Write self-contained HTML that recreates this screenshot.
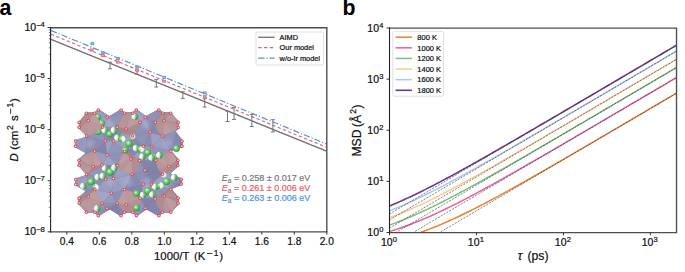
<!DOCTYPE html>
<html><head><meta charset="utf-8"><style>
svg text{font-family:"Liberation Sans",sans-serif}
html,body{margin:0;padding:0;background:#fff;width:685px;height:272px;overflow:hidden;position:relative;font-family:"Liberation Sans", sans-serif}
</style></head><body>
<svg width="685" height="272" viewBox="0 0 685 272" style="position:absolute;left:0;top:0">
<rect width="685" height="272" fill="#fff"/>
<defs><clipPath id="ca"><rect x="50.60" y="27.50" width="276.20" height="204.30"/></clipPath>
<clipPath id="cb"><rect x="389.50" y="28.00" width="287.02" height="204.50"/></clipPath></defs>
<text x="-0.40" y="14.90" font-size="21.3" fill="#000" font-weight="bold">a</text>
<text x="342.40" y="14.95" font-size="21.3" fill="#000" font-weight="bold">b</text>
<g id="crystal">
<defs><clipPath id="cro"><polygon points="79.3,121.5 86.4,112.3 94.6,112.3 98.3,109.0 109.5,116.0 121.0,109.0 124.5,112.3 132.6,112.3 136.3,109.0 146.0,116.0 158.8,109.0 162.8,112.3 170.7,112.3 179.0,121.8 179.0,128.2 175.8,131.5 182.8,140.5 182.8,147.2 171.5,151.0 178.8,159.4 178.8,166.2 170.5,173.5 182.2,178.4 182.2,185.0 171.5,189.0 179.0,197.5 179.0,204.0 171.0,212.8 162.5,212.8 158.9,216.5 146.5,209.5 136.5,216.5 132.8,212.8 124.5,212.8 121.0,216.5 109.7,209.5 98.3,216.5 94.8,212.8 86.4,212.8 78.3,204.0 78.3,197.5 85.5,191.0 75.0,185.2 75.0,178.6 86.6,174.8 78.3,166.0 78.3,159.5 85.5,153.0 74.8,147.2 74.8,140.2 86.6,136.4 78.4,128.3"/></clipPath>
<radialGradient id="gG" cx="0.4" cy="0.38" r="0.62"><stop offset="0" stop-color="#f6fff6"/><stop offset="0.3" stop-color="#8ad88a"/><stop offset="1" stop-color="#2f9a3a"/></radialGradient><radialGradient id="gW" cx="0.4" cy="0.38" r="0.62"><stop offset="0" stop-color="#ffffff"/><stop offset="0.6" stop-color="#f2f2f2"/><stop offset="1" stop-color="#c4c4c4"/></radialGradient><radialGradient id="gR" cx="0.5" cy="0.5" r="0.5"><stop offset="0" stop-color="#fff0f0"/><stop offset="0.3" stop-color="#f6a8ae"/><stop offset="0.7" stop-color="#e24a56"/><stop offset="1" stop-color="#d04650"/></radialGradient><radialGradient id="gB" cx="0.5" cy="0.5" r="0.5"><stop offset="0" stop-color="#b4b6d8" stop-opacity="0.9"/><stop offset="1" stop-color="#b4b6d8" stop-opacity="0"/></radialGradient></defs>
<polygon points="79.3,121.5 86.4,112.3 94.6,112.3 98.3,109.0 109.5,116.0 121.0,109.0 124.5,112.3 132.6,112.3 136.3,109.0 146.0,116.0 158.8,109.0 162.8,112.3 170.7,112.3 179.0,121.8 179.0,128.2 175.8,131.5 182.8,140.5 182.8,147.2 171.5,151.0 178.8,159.4 178.8,166.2 170.5,173.5 182.2,178.4 182.2,185.0 171.5,189.0 179.0,197.5 179.0,204.0 171.0,212.8 162.5,212.8 158.9,216.5 146.5,209.5 136.5,216.5 132.8,212.8 124.5,212.8 121.0,216.5 109.7,209.5 98.3,216.5 94.8,212.8 86.4,212.8 78.3,204.0 78.3,197.5 85.5,191.0 75.0,185.2 75.0,178.6 86.6,174.8 78.3,166.0 78.3,159.5 85.5,153.0 74.8,147.2 74.8,140.2 86.6,136.4 78.4,128.3" fill="#9295bb"/>
<g clip-path="url(#cro)"><polygon points="78.3,204.0 86.4,212.2 86.4,212.8" fill="#9698bc" stroke="#7d80a8" stroke-width="0.4" stroke-opacity="0.4"/><polygon points="107.2,155.0 94.6,151.1 105.4,141.0" fill="#8284ab" stroke="#7d80a8" stroke-width="0.4" stroke-opacity="0.4"/><polygon points="94.6,151.1 86.6,136.4 105.4,141.0" fill="#8a8cb2" stroke="#7d80a8" stroke-width="0.4" stroke-opacity="0.4"/><polygon points="98.3,215.7 109.7,209.5 98.3,216.5" fill="#8a8cb2" stroke="#7d80a8" stroke-width="0.4" stroke-opacity="0.4"/><polygon points="75.6,146.3 85.5,153.0 74.8,147.2" fill="#9698bd" stroke="#7d80a8" stroke-width="0.4" stroke-opacity="0.4"/><polygon points="94.6,151.1 85.5,153.0 86.6,136.4" fill="#898bb1" stroke="#7d80a8" stroke-width="0.4" stroke-opacity="0.4"/><polygon points="85.5,153.0 75.6,146.3 86.6,136.4" fill="#9597bb" stroke="#7d80a8" stroke-width="0.4" stroke-opacity="0.4"/><polygon points="86.4,112.3 86.4,113.2 79.3,121.5" fill="#9ea0c3" stroke="#7d80a8" stroke-width="0.4" stroke-opacity="0.4"/><polygon points="86.4,113.2 88.2,120.6 79.3,121.5" fill="#9a9cbf" stroke="#7d80a8" stroke-width="0.4" stroke-opacity="0.4"/><polygon points="179.0,121.8 170.7,113.2 170.7,112.3" fill="#8a8cb2" stroke="#7d80a8" stroke-width="0.4" stroke-opacity="0.4"/><polygon points="178.1,203.2 170.7,212.2 164.4,196.1" fill="#8385ab" stroke="#7d80a8" stroke-width="0.4" stroke-opacity="0.4"/><polygon points="170.7,212.2 162.5,212.2 164.4,196.1" fill="#8284ab" stroke="#7d80a8" stroke-width="0.4" stroke-opacity="0.4"/><polygon points="171.0,212.8 170.7,212.2 179.0,204.0" fill="#8486ad" stroke="#7d80a8" stroke-width="0.4" stroke-opacity="0.4"/><polygon points="170.7,212.2 178.1,203.2 179.0,204.0" fill="#8789b0" stroke="#7d80a8" stroke-width="0.4" stroke-opacity="0.4"/><polygon points="162.5,212.8 170.7,212.2 171.0,212.8" fill="#8183aa" stroke="#7d80a8" stroke-width="0.4" stroke-opacity="0.4"/><polygon points="162.5,212.2 170.7,212.2 162.5,212.8" fill="#8284ab" stroke="#7d80a8" stroke-width="0.4" stroke-opacity="0.4"/><polygon points="113.5,178.5 132.3,174.2 124.4,189.5" fill="#9fa1c4" stroke="#7d80a8" stroke-width="0.4" stroke-opacity="0.4"/><polygon points="140.1,198.3 143.5,184.1 151.6,184.1" fill="#a0a2c6" stroke="#7d80a8" stroke-width="0.4" stroke-opacity="0.4"/><polygon points="132.3,174.2 143.5,184.1 124.4,189.5" fill="#8789b0" stroke="#7d80a8" stroke-width="0.4" stroke-opacity="0.4"/><polygon points="143.5,184.1 140.1,198.3 124.4,189.5" fill="#8385ac" stroke="#7d80a8" stroke-width="0.4" stroke-opacity="0.4"/><polygon points="158.8,110.0 146.0,116.0 158.8,109.0" fill="#989abf" stroke="#7d80a8" stroke-width="0.4" stroke-opacity="0.4"/><polygon points="158.8,110.0 162.8,112.3 162.8,113.2" fill="#8c8eb4" stroke="#7d80a8" stroke-width="0.4" stroke-opacity="0.4"/><polygon points="162.8,112.3 158.8,110.0 158.8,109.0" fill="#9496bb" stroke="#7d80a8" stroke-width="0.4" stroke-opacity="0.4"/><polygon points="155.3,122.4 158.8,110.0 162.8,113.2" fill="#8d8fb5" stroke="#7d80a8" stroke-width="0.4" stroke-opacity="0.4"/><polygon points="158.8,110.0 155.3,122.4 146.0,116.0" fill="#9092b6" stroke="#7d80a8" stroke-width="0.4" stroke-opacity="0.4"/><polygon points="117.3,127.1 102.6,127.1 107.2,117.3" fill="#9b9dc0" stroke="#7d80a8" stroke-width="0.4" stroke-opacity="0.4"/><polygon points="79.1,203.1 86.4,212.2 78.3,204.0" fill="#8a8cb2" stroke="#7d80a8" stroke-width="0.4" stroke-opacity="0.4"/><polygon points="75.6,141.1 74.8,140.2 86.6,136.4" fill="#a1a3c6" stroke="#7d80a8" stroke-width="0.4" stroke-opacity="0.4"/><polygon points="75.6,146.3 75.6,141.1 86.6,136.4" fill="#9b9dc0" stroke="#7d80a8" stroke-width="0.4" stroke-opacity="0.4"/><polygon points="102.6,127.1 86.6,136.0 88.2,120.6" fill="#9a9cc0" stroke="#7d80a8" stroke-width="0.4" stroke-opacity="0.4"/><polygon points="86.6,136.4 86.6,136.0 105.4,141.0" fill="#9698bd" stroke="#7d80a8" stroke-width="0.4" stroke-opacity="0.4"/><polygon points="86.6,136.0 102.6,127.1 105.4,141.0" fill="#9193b8" stroke="#7d80a8" stroke-width="0.4" stroke-opacity="0.4"/><polygon points="88.2,120.6 79.2,122.4 79.3,121.5" fill="#9ea0c4" stroke="#7d80a8" stroke-width="0.4" stroke-opacity="0.4"/><polygon points="182.8,147.2 181.9,146.3 182.8,140.5" fill="#8385ac" stroke="#7d80a8" stroke-width="0.4" stroke-opacity="0.4"/><polygon points="171.5,151.0 178.8,159.4 177.8,160.2" fill="#8082a9" stroke="#7d80a8" stroke-width="0.4" stroke-opacity="0.4"/><polygon points="170.7,151.1 171.5,151.0 177.8,160.2" fill="#8284ab" stroke="#7d80a8" stroke-width="0.4" stroke-opacity="0.4"/><polygon points="171.5,151.0 181.9,146.3 182.8,147.2" fill="#8688af" stroke="#7d80a8" stroke-width="0.4" stroke-opacity="0.4"/><polygon points="179.0,128.2 178.2,127.5 179.0,121.8" fill="#9496ba" stroke="#7d80a8" stroke-width="0.4" stroke-opacity="0.4"/><polygon points="178.2,127.5 178.2,122.4 179.0,121.8" fill="#9496ba" stroke="#7d80a8" stroke-width="0.4" stroke-opacity="0.4"/><polygon points="178.2,122.4 170.7,113.2 179.0,121.8" fill="#989abe" stroke="#7d80a8" stroke-width="0.4" stroke-opacity="0.4"/><polygon points="162.5,174.3 168.9,166.5 170.5,173.5" fill="#9b9dc0" stroke="#7d80a8" stroke-width="0.4" stroke-opacity="0.4"/><polygon points="168.9,166.5 170.7,151.1 177.8,160.2" fill="#8385ac" stroke="#7d80a8" stroke-width="0.4" stroke-opacity="0.4"/><polygon points="171.5,189.0 162.5,174.3 170.5,173.5" fill="#9a9cc0" stroke="#7d80a8" stroke-width="0.4" stroke-opacity="0.4"/><polygon points="132.3,174.2 117.3,165.4 131.0,158.9" fill="#9ea0c3" stroke="#7d80a8" stroke-width="0.4" stroke-opacity="0.4"/><polygon points="113.5,178.5 117.3,165.4 132.3,174.2" fill="#9d9fc2" stroke="#7d80a8" stroke-width="0.4" stroke-opacity="0.4"/><polygon points="117.3,165.4 124.7,151.5 131.0,158.9" fill="#8b8db3" stroke="#7d80a8" stroke-width="0.4" stroke-opacity="0.4"/><polygon points="124.7,151.5 117.3,165.4 107.2,155.0" fill="#9092b8" stroke="#7d80a8" stroke-width="0.4" stroke-opacity="0.4"/><polygon points="146.5,209.5 158.9,215.7 158.9,216.5" fill="#8789b0" stroke="#7d80a8" stroke-width="0.4" stroke-opacity="0.4"/><polygon points="158.9,215.7 146.5,209.5 162.5,212.2" fill="#8587ae" stroke="#7d80a8" stroke-width="0.4" stroke-opacity="0.4"/><polygon points="158.9,215.7 162.5,212.8 158.9,216.5" fill="#8284ab" stroke="#7d80a8" stroke-width="0.4" stroke-opacity="0.4"/><polygon points="158.9,215.7 162.5,212.2 162.5,212.8" fill="#8789b0" stroke="#7d80a8" stroke-width="0.4" stroke-opacity="0.4"/><polygon points="162.5,212.2 155.1,198.8 164.4,196.1" fill="#8486ac" stroke="#7d80a8" stroke-width="0.4" stroke-opacity="0.4"/><polygon points="146.5,209.5 155.1,198.8 162.5,212.2" fill="#8385ac" stroke="#7d80a8" stroke-width="0.4" stroke-opacity="0.4"/><polygon points="164.4,196.1 155.1,198.8 151.6,184.1" fill="#9294b9" stroke="#7d80a8" stroke-width="0.4" stroke-opacity="0.4"/><polygon points="155.1,198.8 140.1,198.3 151.6,184.1" fill="#9597bb" stroke="#7d80a8" stroke-width="0.4" stroke-opacity="0.4"/><polygon points="144.9,170.3 143.5,184.1 132.3,174.2" fill="#8d8fb4" stroke="#7d80a8" stroke-width="0.4" stroke-opacity="0.4"/><polygon points="144.9,170.3 162.5,174.3 151.6,184.1" fill="#8183a9" stroke="#7d80a8" stroke-width="0.4" stroke-opacity="0.4"/><polygon points="143.5,184.1 144.9,170.3 151.6,184.1" fill="#898bb1" stroke="#7d80a8" stroke-width="0.4" stroke-opacity="0.4"/><polygon points="86.4,113.2 94.6,113.2 88.2,120.6" fill="#a1a3c6" stroke="#7d80a8" stroke-width="0.4" stroke-opacity="0.4"/><polygon points="94.6,113.2 102.6,127.1 88.2,120.6" fill="#9ea0c3" stroke="#7d80a8" stroke-width="0.4" stroke-opacity="0.4"/><polygon points="94.6,113.2 98.3,110.0 107.2,117.3" fill="#a2a4c7" stroke="#7d80a8" stroke-width="0.4" stroke-opacity="0.4"/><polygon points="102.6,127.1 94.6,113.2 107.2,117.3" fill="#9ea0c3" stroke="#7d80a8" stroke-width="0.4" stroke-opacity="0.4"/><polygon points="162.5,136.0 170.7,151.1 151.9,146.6" fill="#9b9dc1" stroke="#7d80a8" stroke-width="0.4" stroke-opacity="0.4"/><polygon points="162.5,136.0 171.5,151.0 170.7,151.1" fill="#8587ae" stroke="#7d80a8" stroke-width="0.4" stroke-opacity="0.4"/><polygon points="124.7,151.5 143.5,146.3 131.0,158.9" fill="#8587ae" stroke="#7d80a8" stroke-width="0.4" stroke-opacity="0.4"/><polygon points="143.5,146.3 124.7,151.5 132.3,136.0" fill="#8688ae" stroke="#7d80a8" stroke-width="0.4" stroke-opacity="0.4"/><polygon points="150.2,132.3 143.5,146.3 132.3,136.0" fill="#8e90b6" stroke="#7d80a8" stroke-width="0.4" stroke-opacity="0.4"/><polygon points="143.5,146.3 150.2,132.3 151.9,146.6" fill="#8a8cb3" stroke="#7d80a8" stroke-width="0.4" stroke-opacity="0.4"/><polygon points="150.2,132.3 162.5,136.0 151.9,146.6" fill="#9ea0c3" stroke="#7d80a8" stroke-width="0.4" stroke-opacity="0.4"/><polygon points="162.5,136.0 150.2,132.3 155.3,122.4" fill="#8587ae" stroke="#7d80a8" stroke-width="0.4" stroke-opacity="0.4"/><polygon points="109.5,116.0 121.1,110.0 124.6,113.2" fill="#8f91b6" stroke="#7d80a8" stroke-width="0.4" stroke-opacity="0.4"/><polygon points="117.3,127.1 109.5,116.0 124.6,113.2" fill="#9193b8" stroke="#7d80a8" stroke-width="0.4" stroke-opacity="0.4"/><polygon points="109.5,116.0 117.3,127.1 107.2,117.3" fill="#9799be" stroke="#7d80a8" stroke-width="0.4" stroke-opacity="0.4"/><polygon points="121.1,110.0 109.5,116.0 121.0,109.0" fill="#999bbf" stroke="#7d80a8" stroke-width="0.4" stroke-opacity="0.4"/><polygon points="109.5,116.0 98.3,110.0 98.3,109.0" fill="#a2a4c7" stroke="#7d80a8" stroke-width="0.4" stroke-opacity="0.4"/><polygon points="98.3,110.0 109.5,116.0 107.2,117.3" fill="#9d9fc2" stroke="#7d80a8" stroke-width="0.4" stroke-opacity="0.4"/><polygon points="124.7,151.5 113.5,141.0 132.3,136.0" fill="#9c9ec1" stroke="#7d80a8" stroke-width="0.4" stroke-opacity="0.4"/><polygon points="113.5,141.0 107.2,155.0 105.4,141.0" fill="#9d9fc3" stroke="#7d80a8" stroke-width="0.4" stroke-opacity="0.4"/><polygon points="113.5,141.0 124.7,151.5 107.2,155.0" fill="#9395b9" stroke="#7d80a8" stroke-width="0.4" stroke-opacity="0.4"/><polygon points="102.6,127.1 113.5,141.0 105.4,141.0" fill="#898bb1" stroke="#7d80a8" stroke-width="0.4" stroke-opacity="0.4"/><polygon points="117.3,127.1 113.5,141.0 102.6,127.1" fill="#8385ac" stroke="#7d80a8" stroke-width="0.4" stroke-opacity="0.4"/><polygon points="136.3,110.0 136.3,109.0 146.0,116.0" fill="#9c9ec1" stroke="#7d80a8" stroke-width="0.4" stroke-opacity="0.4"/><polygon points="113.5,141.0 126.1,129.0 132.3,136.0" fill="#9b9dc0" stroke="#7d80a8" stroke-width="0.4" stroke-opacity="0.4"/><polygon points="126.1,129.0 113.5,141.0 117.3,127.1" fill="#8688af" stroke="#7d80a8" stroke-width="0.4" stroke-opacity="0.4"/><polygon points="126.1,129.0 117.3,127.1 124.6,113.2" fill="#8587ae" stroke="#7d80a8" stroke-width="0.4" stroke-opacity="0.4"/><polygon points="132.6,113.2 126.1,129.0 124.6,113.2" fill="#898bb1" stroke="#7d80a8" stroke-width="0.4" stroke-opacity="0.4"/><polygon points="132.6,112.3 132.6,113.2 124.6,113.2" fill="#9ea0c3" stroke="#7d80a8" stroke-width="0.4" stroke-opacity="0.4"/><polygon points="136.3,110.0 132.6,112.3 136.3,109.0" fill="#a2a4c7" stroke="#7d80a8" stroke-width="0.4" stroke-opacity="0.4"/><polygon points="132.6,112.3 136.3,110.0 132.6,113.2" fill="#9c9ec1" stroke="#7d80a8" stroke-width="0.4" stroke-opacity="0.4"/><polygon points="78.3,197.5 85.5,191.0 79.1,198.4" fill="#8e90b6" stroke="#7d80a8" stroke-width="0.4" stroke-opacity="0.4"/><polygon points="85.5,191.0 86.6,174.8 94.8,189.4" fill="#8b8db3" stroke="#7d80a8" stroke-width="0.4" stroke-opacity="0.4"/><polygon points="111.5,193.2 102.2,203.2 94.8,189.4" fill="#a3a5c8" stroke="#7d80a8" stroke-width="0.4" stroke-opacity="0.4"/><polygon points="111.5,193.2 117.1,203.2 102.2,203.2" fill="#9799bd" stroke="#7d80a8" stroke-width="0.4" stroke-opacity="0.4"/><polygon points="111.5,193.2 113.5,178.5 124.4,189.5" fill="#999bc0" stroke="#7d80a8" stroke-width="0.4" stroke-opacity="0.4"/><polygon points="117.1,203.2 111.5,193.2 124.4,189.5" fill="#8d8fb5" stroke="#7d80a8" stroke-width="0.4" stroke-opacity="0.4"/><polygon points="107.0,208.4 109.7,209.5 98.3,215.7" fill="#8c8eb3" stroke="#7d80a8" stroke-width="0.4" stroke-opacity="0.4"/><polygon points="107.0,208.4 117.1,203.2 109.7,209.5" fill="#8486ad" stroke="#7d80a8" stroke-width="0.4" stroke-opacity="0.4"/><polygon points="117.1,203.2 107.0,208.4 102.2,203.2" fill="#8d8fb5" stroke="#7d80a8" stroke-width="0.4" stroke-opacity="0.4"/><polygon points="94.8,212.8 98.3,215.7 98.3,216.5" fill="#9496bb" stroke="#7d80a8" stroke-width="0.4" stroke-opacity="0.4"/><polygon points="86.6,136.0 79.2,127.3 88.2,120.6" fill="#9b9dc0" stroke="#7d80a8" stroke-width="0.4" stroke-opacity="0.4"/><polygon points="79.2,127.3 86.6,136.0 78.4,128.3" fill="#9d9fc2" stroke="#7d80a8" stroke-width="0.4" stroke-opacity="0.4"/><polygon points="79.2,127.3 79.2,122.4 88.2,120.6" fill="#9c9ec1" stroke="#7d80a8" stroke-width="0.4" stroke-opacity="0.4"/><polygon points="79.2,122.4 79.2,127.3 78.4,128.3" fill="#9d9fc2" stroke="#7d80a8" stroke-width="0.4" stroke-opacity="0.4"/><polygon points="79.1,165.3 86.6,174.5 78.3,166.0" fill="#9fa1c4" stroke="#7d80a8" stroke-width="0.4" stroke-opacity="0.4"/><polygon points="117.3,165.4 101.9,165.0 107.2,155.0" fill="#a0a2c5" stroke="#7d80a8" stroke-width="0.4" stroke-opacity="0.4"/><polygon points="101.9,165.0 117.3,165.4 113.5,178.5" fill="#8486ad" stroke="#7d80a8" stroke-width="0.4" stroke-opacity="0.4"/><polygon points="101.9,165.0 94.6,151.1 107.2,155.0" fill="#9b9dc0" stroke="#7d80a8" stroke-width="0.4" stroke-opacity="0.4"/><polygon points="79.1,160.3 78.3,159.5 85.5,153.0" fill="#8e90b5" stroke="#7d80a8" stroke-width="0.4" stroke-opacity="0.4"/><polygon points="79.1,160.3 79.1,165.3 78.3,166.0" fill="#9ea0c3" stroke="#7d80a8" stroke-width="0.4" stroke-opacity="0.4"/><polygon points="78.3,159.5 79.1,160.3 78.3,166.0" fill="#8f91b6" stroke="#7d80a8" stroke-width="0.4" stroke-opacity="0.4"/><polygon points="181.9,146.3 181.9,141.3 182.8,140.5" fill="#8c8eb4" stroke="#7d80a8" stroke-width="0.4" stroke-opacity="0.4"/><polygon points="171.5,151.0 181.9,141.3 181.9,146.3" fill="#8789b0" stroke="#7d80a8" stroke-width="0.4" stroke-opacity="0.4"/><polygon points="178.1,198.3 178.1,203.2 164.4,196.1" fill="#8587ae" stroke="#7d80a8" stroke-width="0.4" stroke-opacity="0.4"/><polygon points="178.1,198.3 171.5,189.0 179.0,197.5" fill="#8587ae" stroke="#7d80a8" stroke-width="0.4" stroke-opacity="0.4"/><polygon points="182.2,178.4 182.2,185.0 181.2,184.1" fill="#898bb1" stroke="#7d80a8" stroke-width="0.4" stroke-opacity="0.4"/><polygon points="182.2,185.0 171.5,189.0 181.2,184.1" fill="#8183aa" stroke="#7d80a8" stroke-width="0.4" stroke-opacity="0.4"/><polygon points="162.5,174.3 170.7,189.5 151.6,184.1" fill="#9d9fc3" stroke="#7d80a8" stroke-width="0.4" stroke-opacity="0.4"/><polygon points="171.5,189.0 170.7,189.5 162.5,174.3" fill="#8688af" stroke="#7d80a8" stroke-width="0.4" stroke-opacity="0.4"/><polygon points="170.7,189.5 164.4,196.1 151.6,184.1" fill="#9193b9" stroke="#7d80a8" stroke-width="0.4" stroke-opacity="0.4"/><polygon points="170.7,189.5 178.1,198.3 164.4,196.1" fill="#8789b0" stroke="#7d80a8" stroke-width="0.4" stroke-opacity="0.4"/><polygon points="178.1,198.3 170.7,189.5 171.5,189.0" fill="#8385ac" stroke="#7d80a8" stroke-width="0.4" stroke-opacity="0.4"/><polygon points="182.2,178.4 181.2,179.2 170.5,173.5" fill="#8c8eb3" stroke="#7d80a8" stroke-width="0.4" stroke-opacity="0.4"/><polygon points="181.2,179.2 182.2,178.4 181.2,184.1" fill="#8587ae" stroke="#7d80a8" stroke-width="0.4" stroke-opacity="0.4"/><polygon points="181.2,179.2 171.5,189.0 170.5,173.5" fill="#8b8db3" stroke="#7d80a8" stroke-width="0.4" stroke-opacity="0.4"/><polygon points="171.5,189.0 181.2,179.2 181.2,184.1" fill="#8284ab" stroke="#7d80a8" stroke-width="0.4" stroke-opacity="0.4"/><polygon points="117.1,203.2 121.0,215.7 109.7,209.5" fill="#8082a9" stroke="#7d80a8" stroke-width="0.4" stroke-opacity="0.4"/><polygon points="155.1,198.8 145.3,208.2 140.1,198.3" fill="#8284ab" stroke="#7d80a8" stroke-width="0.4" stroke-opacity="0.4"/><polygon points="145.3,208.2 155.1,198.8 146.5,209.5" fill="#8183aa" stroke="#7d80a8" stroke-width="0.4" stroke-opacity="0.4"/><polygon points="145.3,208.2 132.8,212.2 140.1,198.3" fill="#9294b9" stroke="#7d80a8" stroke-width="0.4" stroke-opacity="0.4"/><polygon points="139.6,160.6 132.3,174.2 131.0,158.9" fill="#9698bc" stroke="#7d80a8" stroke-width="0.4" stroke-opacity="0.4"/><polygon points="139.6,160.6 144.9,170.3 132.3,174.2" fill="#9092b7" stroke="#7d80a8" stroke-width="0.4" stroke-opacity="0.4"/><polygon points="143.5,146.3 139.6,160.6 131.0,158.9" fill="#9d9fc2" stroke="#7d80a8" stroke-width="0.4" stroke-opacity="0.4"/><polygon points="139.6,160.6 143.5,146.3 151.9,146.6" fill="#999bbf" stroke="#7d80a8" stroke-width="0.4" stroke-opacity="0.4"/><polygon points="155.8,160.3 168.9,166.5 162.5,174.3" fill="#9d9fc2" stroke="#7d80a8" stroke-width="0.4" stroke-opacity="0.4"/><polygon points="144.9,170.3 155.8,160.3 162.5,174.3" fill="#8082a9" stroke="#7d80a8" stroke-width="0.4" stroke-opacity="0.4"/><polygon points="170.7,151.1 155.8,160.3 151.9,146.6" fill="#9395ba" stroke="#7d80a8" stroke-width="0.4" stroke-opacity="0.4"/><polygon points="168.9,166.5 155.8,160.3 170.7,151.1" fill="#8a8cb2" stroke="#7d80a8" stroke-width="0.4" stroke-opacity="0.4"/><polygon points="155.8,160.3 139.6,160.6 151.9,146.6" fill="#9597bb" stroke="#7d80a8" stroke-width="0.4" stroke-opacity="0.4"/><polygon points="139.6,160.6 155.8,160.3 144.9,170.3" fill="#8385ac" stroke="#7d80a8" stroke-width="0.4" stroke-opacity="0.4"/><polygon points="98.3,110.0 94.6,112.3 98.3,109.0" fill="#9ea0c3" stroke="#7d80a8" stroke-width="0.4" stroke-opacity="0.4"/><polygon points="94.6,113.2 94.6,112.3 98.3,110.0" fill="#9ea0c3" stroke="#7d80a8" stroke-width="0.4" stroke-opacity="0.4"/><polygon points="164.2,120.7 162.5,136.0 155.3,122.4" fill="#8385ac" stroke="#7d80a8" stroke-width="0.4" stroke-opacity="0.4"/><polygon points="164.2,120.7 178.2,122.4 178.2,127.5" fill="#9b9dc1" stroke="#7d80a8" stroke-width="0.4" stroke-opacity="0.4"/><polygon points="170.7,113.2 164.2,120.7 162.8,113.2" fill="#9092b8" stroke="#7d80a8" stroke-width="0.4" stroke-opacity="0.4"/><polygon points="164.2,120.7 155.3,122.4 162.8,113.2" fill="#8b8db3" stroke="#7d80a8" stroke-width="0.4" stroke-opacity="0.4"/><polygon points="178.2,122.4 164.2,120.7 170.7,113.2" fill="#9a9cbf" stroke="#7d80a8" stroke-width="0.4" stroke-opacity="0.4"/><polygon points="155.3,122.4 145.3,117.3 146.0,116.0" fill="#9395ba" stroke="#7d80a8" stroke-width="0.4" stroke-opacity="0.4"/><polygon points="150.2,132.3 145.3,117.3 155.3,122.4" fill="#8486ad" stroke="#7d80a8" stroke-width="0.4" stroke-opacity="0.4"/><polygon points="145.3,117.3 136.3,110.0 146.0,116.0" fill="#9d9fc2" stroke="#7d80a8" stroke-width="0.4" stroke-opacity="0.4"/><polygon points="124.5,112.3 132.6,112.3 124.6,113.2" fill="#8d8fb4" stroke="#7d80a8" stroke-width="0.4" stroke-opacity="0.4"/><polygon points="121.1,110.0 124.5,112.3 124.6,113.2" fill="#9395ba" stroke="#7d80a8" stroke-width="0.4" stroke-opacity="0.4"/><polygon points="124.5,112.3 121.1,110.0 121.0,109.0" fill="#8f91b6" stroke="#7d80a8" stroke-width="0.4" stroke-opacity="0.4"/><polygon points="88.2,196.6 79.1,203.1 79.1,198.4" fill="#898bb0" stroke="#7d80a8" stroke-width="0.4" stroke-opacity="0.4"/><polygon points="85.5,191.0 88.2,196.6 79.1,198.4" fill="#9092b7" stroke="#7d80a8" stroke-width="0.4" stroke-opacity="0.4"/><polygon points="79.1,203.1 88.2,196.6 86.4,212.2" fill="#8a8cb2" stroke="#7d80a8" stroke-width="0.4" stroke-opacity="0.4"/><polygon points="102.2,203.2 88.2,196.6 94.8,189.4" fill="#9b9dc0" stroke="#7d80a8" stroke-width="0.4" stroke-opacity="0.4"/><polygon points="88.2,196.6 85.5,191.0 94.8,189.4" fill="#888ab1" stroke="#7d80a8" stroke-width="0.4" stroke-opacity="0.4"/><polygon points="105.6,179.2 111.5,193.2 94.8,189.4" fill="#9b9dc0" stroke="#7d80a8" stroke-width="0.4" stroke-opacity="0.4"/><polygon points="111.5,193.2 105.6,179.2 113.5,178.5" fill="#9b9dc1" stroke="#7d80a8" stroke-width="0.4" stroke-opacity="0.4"/><polygon points="105.6,179.2 101.9,165.0 113.5,178.5" fill="#8e90b6" stroke="#7d80a8" stroke-width="0.4" stroke-opacity="0.4"/><polygon points="86.6,174.8 105.6,179.2 94.8,189.4" fill="#8c8eb4" stroke="#7d80a8" stroke-width="0.4" stroke-opacity="0.4"/><polygon points="93.2,166.6 86.6,174.5 79.1,165.3" fill="#9fa1c4" stroke="#7d80a8" stroke-width="0.4" stroke-opacity="0.4"/><polygon points="105.6,179.2 93.2,166.6 101.9,165.0" fill="#9193b8" stroke="#7d80a8" stroke-width="0.4" stroke-opacity="0.4"/><polygon points="93.2,166.6 79.1,160.3 85.5,153.0" fill="#898bb1" stroke="#7d80a8" stroke-width="0.4" stroke-opacity="0.4"/><polygon points="79.1,160.3 93.2,166.6 79.1,165.3" fill="#9b9dc1" stroke="#7d80a8" stroke-width="0.4" stroke-opacity="0.4"/><polygon points="93.2,166.6 85.5,153.0 94.6,151.1" fill="#898bb1" stroke="#7d80a8" stroke-width="0.4" stroke-opacity="0.4"/><polygon points="101.9,165.0 93.2,166.6 94.6,151.1" fill="#9d9fc2" stroke="#7d80a8" stroke-width="0.4" stroke-opacity="0.4"/><polygon points="86.6,174.5 93.2,166.6 86.6,174.8" fill="#9ea0c4" stroke="#7d80a8" stroke-width="0.4" stroke-opacity="0.4"/><polygon points="93.2,166.6 105.6,179.2 86.6,174.8" fill="#9395ba" stroke="#7d80a8" stroke-width="0.4" stroke-opacity="0.4"/><polygon points="168.9,166.5 177.8,165.4 170.5,173.5" fill="#9597bb" stroke="#7d80a8" stroke-width="0.4" stroke-opacity="0.4"/><polygon points="177.8,165.4 178.8,166.2 170.5,173.5" fill="#9799be" stroke="#7d80a8" stroke-width="0.4" stroke-opacity="0.4"/><polygon points="177.8,165.4 168.9,166.5 177.8,160.2" fill="#9a9cc1" stroke="#7d80a8" stroke-width="0.4" stroke-opacity="0.4"/><polygon points="132.8,212.2 126.3,204.8 140.1,198.3" fill="#9b9dc1" stroke="#7d80a8" stroke-width="0.4" stroke-opacity="0.4"/><polygon points="140.1,198.3 126.3,204.8 124.4,189.5" fill="#898bb1" stroke="#7d80a8" stroke-width="0.4" stroke-opacity="0.4"/><polygon points="126.3,204.8 117.1,203.2 124.4,189.5" fill="#8c8eb4" stroke="#7d80a8" stroke-width="0.4" stroke-opacity="0.4"/><polygon points="175.8,131.5 164.2,120.7 178.2,127.5" fill="#9a9cc0" stroke="#7d80a8" stroke-width="0.4" stroke-opacity="0.4"/><polygon points="164.2,120.7 175.8,131.5 162.5,136.0" fill="#999bbe" stroke="#7d80a8" stroke-width="0.4" stroke-opacity="0.4"/><polygon points="179.0,128.2 175.8,131.5 178.2,127.5" fill="#9496ba" stroke="#7d80a8" stroke-width="0.4" stroke-opacity="0.4"/><polygon points="181.9,141.3 175.8,131.5 182.8,140.5" fill="#8b8db3" stroke="#7d80a8" stroke-width="0.4" stroke-opacity="0.4"/><polygon points="162.5,136.0 175.8,131.5 171.5,151.0" fill="#9092b7" stroke="#7d80a8" stroke-width="0.4" stroke-opacity="0.4"/><polygon points="175.8,131.5 181.9,141.3 171.5,151.0" fill="#8688ae" stroke="#7d80a8" stroke-width="0.4" stroke-opacity="0.4"/><polygon points="140.0,122.4 150.2,132.3 132.3,136.0" fill="#8f91b6" stroke="#7d80a8" stroke-width="0.4" stroke-opacity="0.4"/><polygon points="140.0,122.4 145.3,117.3 150.2,132.3" fill="#999bbf" stroke="#7d80a8" stroke-width="0.4" stroke-opacity="0.4"/><polygon points="126.1,129.0 140.0,122.4 132.3,136.0" fill="#999bbf" stroke="#7d80a8" stroke-width="0.4" stroke-opacity="0.4"/><polygon points="140.0,122.4 126.1,129.0 132.6,113.2" fill="#a1a3c6" stroke="#7d80a8" stroke-width="0.4" stroke-opacity="0.4"/><polygon points="136.3,110.0 140.0,122.4 132.6,113.2" fill="#9fa1c4" stroke="#7d80a8" stroke-width="0.4" stroke-opacity="0.4"/><polygon points="145.3,117.3 140.0,122.4 136.3,110.0" fill="#a3a5c8" stroke="#7d80a8" stroke-width="0.4" stroke-opacity="0.4"/><polygon points="85.5,191.0 75.8,184.5 86.6,174.8" fill="#9d9fc3" stroke="#7d80a8" stroke-width="0.4" stroke-opacity="0.4"/><polygon points="88.2,196.6 94.8,212.2 86.4,212.2" fill="#9c9ec2" stroke="#7d80a8" stroke-width="0.4" stroke-opacity="0.4"/><polygon points="94.8,212.2 88.2,196.6 102.2,203.2" fill="#989abe" stroke="#7d80a8" stroke-width="0.4" stroke-opacity="0.4"/><polygon points="94.8,212.8 94.8,212.2 98.3,215.7" fill="#9092b7" stroke="#7d80a8" stroke-width="0.4" stroke-opacity="0.4"/><polygon points="94.8,212.2 107.0,208.4 98.3,215.7" fill="#8e90b5" stroke="#7d80a8" stroke-width="0.4" stroke-opacity="0.4"/><polygon points="107.0,208.4 94.8,212.2 102.2,203.2" fill="#9092b7" stroke="#7d80a8" stroke-width="0.4" stroke-opacity="0.4"/><polygon points="124.5,212.2 126.3,204.8 132.8,212.2" fill="#8284ab" stroke="#7d80a8" stroke-width="0.4" stroke-opacity="0.4"/><polygon points="126.3,204.8 124.5,212.2 117.1,203.2" fill="#8587ae" stroke="#7d80a8" stroke-width="0.4" stroke-opacity="0.4"/><polygon points="121.0,215.7 124.5,212.2 124.5,212.8" fill="#8789b0" stroke="#7d80a8" stroke-width="0.4" stroke-opacity="0.4"/><polygon points="124.5,212.2 121.0,215.7 117.1,203.2" fill="#8688af" stroke="#7d80a8" stroke-width="0.4" stroke-opacity="0.4"/><polygon points="136.5,215.7 145.3,208.2 146.5,209.5" fill="#8b8db3" stroke="#7d80a8" stroke-width="0.4" stroke-opacity="0.4"/><polygon points="136.5,216.5 136.5,215.7 146.5,209.5" fill="#8e90b6" stroke="#7d80a8" stroke-width="0.4" stroke-opacity="0.4"/><polygon points="145.3,208.2 136.5,215.7 132.8,212.2" fill="#9294b9" stroke="#7d80a8" stroke-width="0.4" stroke-opacity="0.4"/><polygon points="136.5,215.7 132.8,212.8 132.8,212.2" fill="#8e90b5" stroke="#7d80a8" stroke-width="0.4" stroke-opacity="0.4"/><polygon points="132.8,212.8 136.5,215.7 136.5,216.5" fill="#9193b8" stroke="#7d80a8" stroke-width="0.4" stroke-opacity="0.4"/><polygon points="121.0,216.5 121.0,215.7 124.5,212.8" fill="#8789b0" stroke="#7d80a8" stroke-width="0.4" stroke-opacity="0.4"/><polygon points="121.0,215.7 121.0,216.5 109.7,209.5" fill="#8688af" stroke="#7d80a8" stroke-width="0.4" stroke-opacity="0.4"/><polygon points="75.8,179.5 75.0,178.6 86.6,174.8" fill="#a0a2c6" stroke="#7d80a8" stroke-width="0.4" stroke-opacity="0.4"/><polygon points="75.8,184.5 75.8,179.5 86.6,174.8" fill="#9d9fc3" stroke="#7d80a8" stroke-width="0.4" stroke-opacity="0.4"/><polygon points="75.0,185.2 75.8,184.5 85.5,191.0" fill="#9496ba" stroke="#7d80a8" stroke-width="0.4" stroke-opacity="0.4"/><polygon points="75.8,179.5 75.0,185.2 75.0,178.6" fill="#9ea0c4" stroke="#7d80a8" stroke-width="0.4" stroke-opacity="0.4"/><polygon points="75.0,185.2 75.8,179.5 75.8,184.5" fill="#999bbf" stroke="#7d80a8" stroke-width="0.4" stroke-opacity="0.4"/><polygon points="162.8,112.3 170.7,113.2 162.8,113.2" fill="#9092b8" stroke="#7d80a8" stroke-width="0.4" stroke-opacity="0.4"/><polygon points="170.7,113.2 162.8,112.3 170.7,112.3" fill="#9193b9" stroke="#7d80a8" stroke-width="0.4" stroke-opacity="0.4"/><polygon points="79.1,203.1 78.3,197.5 79.1,198.4" fill="#8d8fb5" stroke="#7d80a8" stroke-width="0.4" stroke-opacity="0.4"/><polygon points="78.3,197.5 79.1,203.1 78.3,204.0" fill="#8d8fb5" stroke="#7d80a8" stroke-width="0.4" stroke-opacity="0.4"/><polygon points="75.6,141.1 75.6,146.3 74.8,147.2" fill="#9ea0c4" stroke="#7d80a8" stroke-width="0.4" stroke-opacity="0.4"/><polygon points="74.8,140.2 75.6,141.1 74.8,147.2" fill="#9ea0c3" stroke="#7d80a8" stroke-width="0.4" stroke-opacity="0.4"/><polygon points="178.1,198.3 179.0,197.5 179.0,204.0" fill="#8183aa" stroke="#7d80a8" stroke-width="0.4" stroke-opacity="0.4"/><polygon points="178.1,203.2 178.1,198.3 179.0,204.0" fill="#8183aa" stroke="#7d80a8" stroke-width="0.4" stroke-opacity="0.4"/><polygon points="94.6,112.3 94.6,113.2 86.4,113.2" fill="#9c9ec1" stroke="#7d80a8" stroke-width="0.4" stroke-opacity="0.4"/><polygon points="94.6,112.3 86.4,113.2 86.4,112.3" fill="#a2a4c7" stroke="#7d80a8" stroke-width="0.4" stroke-opacity="0.4"/><polygon points="178.8,166.2 177.8,165.4 178.8,159.4" fill="#9799be" stroke="#7d80a8" stroke-width="0.4" stroke-opacity="0.4"/><polygon points="178.8,159.4 177.8,165.4 177.8,160.2" fill="#8183aa" stroke="#7d80a8" stroke-width="0.4" stroke-opacity="0.4"/><polygon points="94.8,212.2 94.8,212.8 86.4,212.8" fill="#9799bd" stroke="#7d80a8" stroke-width="0.4" stroke-opacity="0.4"/><polygon points="86.4,212.2 94.8,212.2 86.4,212.8" fill="#999bc0" stroke="#7d80a8" stroke-width="0.4" stroke-opacity="0.4"/><polygon points="132.8,212.8 124.5,212.2 132.8,212.2" fill="#9597bc" stroke="#7d80a8" stroke-width="0.4" stroke-opacity="0.4"/><polygon points="124.5,212.2 132.8,212.8 124.5,212.8" fill="#8385ac" stroke="#7d80a8" stroke-width="0.4" stroke-opacity="0.4"/>
<circle cx="89.7" cy="143.5" r="7" fill="url(#gB)" opacity="0.6"/>
<circle cx="167" cy="143.5" r="7" fill="url(#gB)" opacity="0.6"/>
<circle cx="109.5" cy="124" r="7" fill="url(#gB)" opacity="0.6"/>
<circle cx="146.5" cy="124" r="7" fill="url(#gB)" opacity="0.6"/>
<circle cx="109.5" cy="182" r="7" fill="url(#gB)" opacity="0.6"/>
<circle cx="146.5" cy="182" r="7" fill="url(#gB)" opacity="0.6"/>
<circle cx="89.7" cy="182" r="7" fill="url(#gB)" opacity="0.6"/>
<circle cx="167" cy="182" r="7" fill="url(#gB)" opacity="0.6"/>
<circle cx="128" cy="143" r="7" fill="url(#gB)" opacity="0.6"/>
<circle cx="128" cy="182" r="7" fill="url(#gB)" opacity="0.6"/>
</g>
<circle cx="97.7" cy="117.0" r="3.35" fill="url(#gG)"/>
<circle cx="101.6" cy="123.1" r="3.35" fill="url(#gG)"/>
<circle cx="98.3" cy="131.6" r="3.35" fill="url(#gG)"/>
<polygon points="79.6,121.5 86.4,113.2 94.6,113.2 102.6,127.1 95.5,133.0 86.6,136.0 79.6,128.3" fill="#ab8e90"/>
<polygon points="79.6,121.5 86.4,113.2 88.2,120.6" fill="#ad8c8f" stroke="#ad8c8f" stroke-width="0.3" stroke-linejoin="round"/>
<polygon points="86.4,113.2 94.6,113.2 88.2,120.6" fill="#ac8b8e" stroke="#ac8b8e" stroke-width="0.3" stroke-linejoin="round"/>
<polygon points="94.6,113.2 102.6,127.1 88.2,120.6" fill="#be9c9f" stroke="#be9c9f" stroke-width="0.3" stroke-linejoin="round"/>
<polygon points="102.6,127.1 95.5,133.0 88.2,120.6" fill="#ba989b" stroke="#ba989b" stroke-width="0.3" stroke-linejoin="round"/>
<polygon points="95.5,133.0 86.6,136.0 88.2,120.6" fill="#ba989b" stroke="#ba989b" stroke-width="0.3" stroke-linejoin="round"/>
<polygon points="86.6,136.0 79.6,128.3 88.2,120.6" fill="#b89699" stroke="#b89699" stroke-width="0.3" stroke-linejoin="round"/>
<polygon points="79.6,128.3 79.6,121.5 88.2,120.6" fill="#ab8b8e" stroke="#ab8b8e" stroke-width="0.3" stroke-linejoin="round"/>
<polygon points="117.3,127.1 124.6,113.2 132.6,113.2 140.0,122.4 136.0,130.0 132.3,136.0 122.0,133.0" fill="#ab8e90"/>
<polygon points="117.3,127.1 124.6,113.2 126.1,129.0" fill="#b79598" stroke="#b79598" stroke-width="0.3" stroke-linejoin="round"/>
<polygon points="124.6,113.2 132.6,113.2 126.1,129.0" fill="#b59497" stroke="#b59497" stroke-width="0.3" stroke-linejoin="round"/>
<polygon points="132.6,113.2 140.0,122.4 126.1,129.0" fill="#be9c9f" stroke="#be9c9f" stroke-width="0.3" stroke-linejoin="round"/>
<polygon points="140.0,122.4 136.0,130.0 126.1,129.0" fill="#ad8c8f" stroke="#ad8c8f" stroke-width="0.3" stroke-linejoin="round"/>
<polygon points="136.0,130.0 132.3,136.0 126.1,129.0" fill="#aa898c" stroke="#aa898c" stroke-width="0.3" stroke-linejoin="round"/>
<polygon points="132.3,136.0 122.0,133.0 126.1,129.0" fill="#a9888b" stroke="#a9888b" stroke-width="0.3" stroke-linejoin="round"/>
<polygon points="122.0,133.0 117.3,127.1 126.1,129.0" fill="#a78689" stroke="#a78689" stroke-width="0.3" stroke-linejoin="round"/>
<polygon points="155.3,122.4 162.8,113.2 170.7,113.2 178.0,122.4 178.0,127.5 171.0,132.0 162.5,136.0 157.5,131.0" fill="#ab8e90"/>
<polygon points="155.3,122.4 162.8,113.2 164.2,120.7" fill="#b08f92" stroke="#b08f92" stroke-width="0.3" stroke-linejoin="round"/>
<polygon points="162.8,113.2 170.7,113.2 164.2,120.7" fill="#ae8d90" stroke="#ae8d90" stroke-width="0.3" stroke-linejoin="round"/>
<polygon points="170.7,113.2 178.0,122.4 164.2,120.7" fill="#bb9a9d" stroke="#bb9a9d" stroke-width="0.3" stroke-linejoin="round"/>
<polygon points="178.0,122.4 178.0,127.5 164.2,120.7" fill="#b18f92" stroke="#b18f92" stroke-width="0.3" stroke-linejoin="round"/>
<polygon points="178.0,127.5 171.0,132.0 164.2,120.7" fill="#ba989b" stroke="#ba989b" stroke-width="0.3" stroke-linejoin="round"/>
<polygon points="171.0,132.0 162.5,136.0 164.2,120.7" fill="#be9c9f" stroke="#be9c9f" stroke-width="0.3" stroke-linejoin="round"/>
<polygon points="162.5,136.0 157.5,131.0 164.2,120.7" fill="#b49396" stroke="#b49396" stroke-width="0.3" stroke-linejoin="round"/>
<polygon points="157.5,131.0 155.3,122.4 164.2,120.7" fill="#b39295" stroke="#b39295" stroke-width="0.3" stroke-linejoin="round"/>
<polygon points="79.6,159.5 87.0,154.0 94.6,151.1 101.9,165.0 95.0,170.0 86.6,174.5 79.6,166.0" fill="#ab8e90"/>
<polygon points="79.6,159.5 87.0,154.0 93.2,166.6" fill="#bc9a9d" stroke="#bc9a9d" stroke-width="0.3" stroke-linejoin="round"/>
<polygon points="87.0,154.0 94.6,151.1 93.2,166.6" fill="#b9989b" stroke="#b9989b" stroke-width="0.3" stroke-linejoin="round"/>
<polygon points="94.6,151.1 101.9,165.0 93.2,166.6" fill="#be9c9f" stroke="#be9c9f" stroke-width="0.3" stroke-linejoin="round"/>
<polygon points="101.9,165.0 95.0,170.0 93.2,166.6" fill="#a78689" stroke="#a78689" stroke-width="0.3" stroke-linejoin="round"/>
<polygon points="95.0,170.0 86.6,174.5 93.2,166.6" fill="#a8878a" stroke="#a8878a" stroke-width="0.3" stroke-linejoin="round"/>
<polygon points="86.6,174.5 79.6,166.0 93.2,166.6" fill="#b9979a" stroke="#b9979a" stroke-width="0.3" stroke-linejoin="round"/>
<polygon points="79.6,166.0 79.6,159.5 93.2,166.6" fill="#b39295" stroke="#b39295" stroke-width="0.3" stroke-linejoin="round"/>
<polygon points="117.3,165.4 124.7,151.5 131.0,154.5 139.6,160.6 137.0,168.5 132.3,174.2 123.0,171.0" fill="#ab8e90"/>
<polygon points="117.3,165.4 124.7,151.5 131.0,158.9" fill="#be9c9f" stroke="#be9c9f" stroke-width="0.3" stroke-linejoin="round"/>
<polygon points="124.7,151.5 131.0,154.5 131.0,158.9" fill="#a58588" stroke="#a58588" stroke-width="0.3" stroke-linejoin="round"/>
<polygon points="131.0,154.5 139.6,160.6 131.0,158.9" fill="#a7878a" stroke="#a7878a" stroke-width="0.3" stroke-linejoin="round"/>
<polygon points="139.6,160.6 137.0,168.5 131.0,158.9" fill="#af8e91" stroke="#af8e91" stroke-width="0.3" stroke-linejoin="round"/>
<polygon points="137.0,168.5 132.3,174.2 131.0,158.9" fill="#b08f92" stroke="#b08f92" stroke-width="0.3" stroke-linejoin="round"/>
<polygon points="132.3,174.2 123.0,171.0 131.0,158.9" fill="#bd9b9e" stroke="#bd9b9e" stroke-width="0.3" stroke-linejoin="round"/>
<polygon points="123.0,171.0 117.3,165.4 131.0,158.9" fill="#b79699" stroke="#b79699" stroke-width="0.3" stroke-linejoin="round"/>
<polygon points="155.8,160.3 163.5,155.0 170.7,151.1 177.6,160.2 177.6,165.4 170.0,171.5 162.5,174.3 158.0,169.0" fill="#ab8e90"/>
<polygon points="155.8,160.3 163.5,155.0 168.9,166.5" fill="#bc9a9d" stroke="#bc9a9d" stroke-width="0.3" stroke-linejoin="round"/>
<polygon points="163.5,155.0 170.7,151.1 168.9,166.5" fill="#b9979a" stroke="#b9979a" stroke-width="0.3" stroke-linejoin="round"/>
<polygon points="170.7,151.1 177.6,160.2 168.9,166.5" fill="#be9c9f" stroke="#be9c9f" stroke-width="0.3" stroke-linejoin="round"/>
<polygon points="177.6,160.2 177.6,165.4 168.9,166.5" fill="#ab8a8d" stroke="#ab8a8d" stroke-width="0.3" stroke-linejoin="round"/>
<polygon points="177.6,165.4 170.0,171.5 168.9,166.5" fill="#aa8a8d" stroke="#aa8a8d" stroke-width="0.3" stroke-linejoin="round"/>
<polygon points="170.0,171.5 162.5,174.3 168.9,166.5" fill="#a9898c" stroke="#a9898c" stroke-width="0.3" stroke-linejoin="round"/>
<polygon points="162.5,174.3 158.0,169.0 168.9,166.5" fill="#b08f92" stroke="#b08f92" stroke-width="0.3" stroke-linejoin="round"/>
<polygon points="158.0,169.0 155.8,160.3 168.9,166.5" fill="#b89699" stroke="#b89699" stroke-width="0.3" stroke-linejoin="round"/>
<polygon points="79.6,197.8 88.0,193.0 94.8,189.4 102.2,203.2 95.0,208.5 86.4,212.2 79.6,204.0" fill="#ab8e90"/>
<polygon points="79.6,197.8 88.0,193.0 88.2,196.6" fill="#a68689" stroke="#a68689" stroke-width="0.3" stroke-linejoin="round"/>
<polygon points="88.0,193.0 94.8,189.4 88.2,196.6" fill="#a58487" stroke="#a58487" stroke-width="0.3" stroke-linejoin="round"/>
<polygon points="94.8,189.4 102.2,203.2 88.2,196.6" fill="#be9c9f" stroke="#be9c9f" stroke-width="0.3" stroke-linejoin="round"/>
<polygon points="102.2,203.2 95.0,208.5 88.2,196.6" fill="#b9979a" stroke="#b9979a" stroke-width="0.3" stroke-linejoin="round"/>
<polygon points="95.0,208.5 86.4,212.2 88.2,196.6" fill="#ba989b" stroke="#ba989b" stroke-width="0.3" stroke-linejoin="round"/>
<polygon points="86.4,212.2 79.6,204.0 88.2,196.6" fill="#b9979a" stroke="#b9979a" stroke-width="0.3" stroke-linejoin="round"/>
<polygon points="79.6,204.0 79.6,197.8 88.2,196.6" fill="#ab8a8d" stroke="#ab8a8d" stroke-width="0.3" stroke-linejoin="round"/>
<polygon points="117.1,203.2 124.4,189.5 133.0,192.5 140.1,198.3 137.5,206.5 132.8,212.2 124.5,212.2" fill="#ab8e90"/>
<polygon points="117.1,203.2 124.4,189.5 126.3,204.8" fill="#be9c9f" stroke="#be9c9f" stroke-width="0.3" stroke-linejoin="round"/>
<polygon points="124.4,189.5 133.0,192.5 126.3,204.8" fill="#bb999c" stroke="#bb999c" stroke-width="0.3" stroke-linejoin="round"/>
<polygon points="133.0,192.5 140.1,198.3 126.3,204.8" fill="#bb999c" stroke="#bb999c" stroke-width="0.3" stroke-linejoin="round"/>
<polygon points="140.1,198.3 137.5,206.5 126.3,204.8" fill="#b49396" stroke="#b49396" stroke-width="0.3" stroke-linejoin="round"/>
<polygon points="137.5,206.5 132.8,212.2 126.3,204.8" fill="#af8e91" stroke="#af8e91" stroke-width="0.3" stroke-linejoin="round"/>
<polygon points="132.8,212.2 124.5,212.2 126.3,204.8" fill="#ad8c8f" stroke="#ad8c8f" stroke-width="0.3" stroke-linejoin="round"/>
<polygon points="124.5,212.2 117.1,203.2 126.3,204.8" fill="#af8e91" stroke="#af8e91" stroke-width="0.3" stroke-linejoin="round"/>
<polygon points="155.1,198.8 163.0,193.0 170.7,189.5 178.0,198.3 178.0,203.2 170.7,212.2 162.5,212.2 158.0,207.0" fill="#ab8e90"/>
<polygon points="155.1,198.8 163.0,193.0 164.4,196.1" fill="#a58588" stroke="#a58588" stroke-width="0.3" stroke-linejoin="round"/>
<polygon points="163.0,193.0 170.7,189.5 164.4,196.1" fill="#a48487" stroke="#a48487" stroke-width="0.3" stroke-linejoin="round"/>
<polygon points="170.7,189.5 178.0,198.3 164.4,196.1" fill="#b19093" stroke="#b19093" stroke-width="0.3" stroke-linejoin="round"/>
<polygon points="178.0,198.3 178.0,203.2 164.4,196.1" fill="#ab8a8d" stroke="#ab8a8d" stroke-width="0.3" stroke-linejoin="round"/>
<polygon points="178.0,203.2 170.7,212.2 164.4,196.1" fill="#be9c9f" stroke="#be9c9f" stroke-width="0.3" stroke-linejoin="round"/>
<polygon points="170.7,212.2 162.5,212.2 164.4,196.1" fill="#b69598" stroke="#b69598" stroke-width="0.3" stroke-linejoin="round"/>
<polygon points="162.5,212.2 158.0,207.0 164.4,196.1" fill="#ae8d90" stroke="#ae8d90" stroke-width="0.3" stroke-linejoin="round"/>
<polygon points="158.0,207.0 155.1,198.8 164.4,196.1" fill="#ae8d90" stroke="#ae8d90" stroke-width="0.3" stroke-linejoin="round"/>
<circle cx="104.7" cy="130.2" r="3.35" fill="url(#gG)"/>
<path d="M105.30,126.90A3.35,3.35 0 1 0 105.30,133.50Z" fill="url(#gW)"/>
<circle cx="109.5" cy="134.1" r="3.35" fill="url(#gG)"/>
<circle cx="113.9" cy="130.2" r="3.35" fill="url(#gG)"/>
<path d="M114.50,126.90A3.35,3.35 0 1 0 114.50,133.50Z" fill="url(#gW)"/>
<circle cx="117.4" cy="137.9" r="3.35" fill="url(#gG)"/>
<path d="M118.00,134.60A3.35,3.35 0 1 0 118.00,141.20Z" fill="url(#gW)"/>
<circle cx="121.9" cy="139.1" r="3.35" fill="url(#gG)"/>
<path d="M121.70,135.80A3.35,3.35 0 1 1 121.70,142.40Z" fill="url(#gW)"/>
<circle cx="128.9" cy="143.6" r="3.75" fill="url(#gG)"/>
<circle cx="125.1" cy="150.1" r="3.35" fill="url(#gG)"/>
<circle cx="132.8" cy="136.6" r="2.6" fill="url(#gW)"/>
<circle cx="134.7" cy="116.5" r="3.35" fill="url(#gG)"/>
<path d="M135.30,113.20A3.35,3.35 0 1 0 135.30,119.80Z" fill="url(#gW)"/>
<circle cx="136.0" cy="148.1" r="3.35" fill="url(#gG)"/>
<path d="M136.60,144.80A3.35,3.35 0 1 0 136.60,151.40Z" fill="url(#gW)"/>
<circle cx="140.5" cy="149.4" r="3.35" fill="url(#gG)"/>
<path d="M140.30,146.10A3.35,3.35 0 1 1 140.30,152.70Z" fill="url(#gW)"/>
<circle cx="147.6" cy="152.6" r="3.35" fill="url(#gG)"/>
<circle cx="142.4" cy="156.5" r="3.35" fill="url(#gG)"/>
<path d="M143.00,153.20A3.35,3.35 0 1 0 143.00,159.80Z" fill="url(#gW)"/>
<circle cx="154.4" cy="157.1" r="3.35" fill="url(#gG)"/>
<circle cx="151.6" cy="157.8" r="3.35" fill="url(#gG)"/>
<path d="M152.20,154.50A3.35,3.35 0 1 0 152.20,161.10Z" fill="url(#gW)"/>
<circle cx="159.4" cy="155.2" r="3.35" fill="url(#gG)"/>
<path d="M160.00,151.90A3.35,3.35 0 1 0 160.00,158.50Z" fill="url(#gW)"/>
<circle cx="176.4" cy="148.4" r="3.35" fill="url(#gG)"/>
<circle cx="105.0" cy="168.3" r="3.35" fill="url(#gG)"/>
<path d="M105.60,165.00A3.35,3.35 0 1 0 105.60,171.60Z" fill="url(#gW)"/>
<circle cx="110.0" cy="172.1" r="3.75" fill="url(#gG)"/>
<circle cx="114.4" cy="167.7" r="3.35" fill="url(#gG)"/>
<path d="M115.00,164.40A3.35,3.35 0 1 0 115.00,171.00Z" fill="url(#gW)"/>
<circle cx="97.8" cy="177.1" r="3.35" fill="url(#gG)"/>
<path d="M98.40,173.80A3.35,3.35 0 1 0 98.40,180.40Z" fill="url(#gW)"/>
<circle cx="102.8" cy="176.0" r="3.35" fill="url(#gG)"/>
<path d="M103.40,172.70A3.35,3.35 0 1 0 103.40,179.30Z" fill="url(#gW)"/>
<circle cx="90.9" cy="181.7" r="3.75" fill="url(#gG)"/>
<circle cx="83.3" cy="186.1" r="3.35" fill="url(#gG)"/>
<path d="M83.90,182.80A3.35,3.35 0 1 0 83.90,189.40Z" fill="url(#gW)"/>
<circle cx="95.2" cy="187.4" r="3.35" fill="url(#gG)"/>
<path d="M95.00,184.10A3.35,3.35 0 1 1 95.00,190.70Z" fill="url(#gW)"/>
<circle cx="166.5" cy="181.5" r="3.75" fill="url(#gG)"/>
<circle cx="174.1" cy="177.4" r="3.35" fill="url(#gG)"/>
<path d="M174.70,174.10A3.35,3.35 0 1 0 174.70,180.70Z" fill="url(#gW)"/>
<circle cx="155.3" cy="186.8" r="3.35" fill="url(#gG)"/>
<path d="M155.90,183.50A3.35,3.35 0 1 0 155.90,190.10Z" fill="url(#gW)"/>
<circle cx="160.0" cy="185.6" r="3.35" fill="url(#gG)"/>
<path d="M159.80,182.30A3.35,3.35 0 1 1 159.80,188.90Z" fill="url(#gW)"/>
<circle cx="147.6" cy="190.9" r="3.75" fill="url(#gG)"/>
<circle cx="142.9" cy="195.1" r="3.35" fill="url(#gG)"/>
<path d="M143.50,191.80A3.35,3.35 0 1 0 143.50,198.40Z" fill="url(#gW)"/>
<circle cx="152.4" cy="194.5" r="3.35" fill="url(#gG)"/>
<path d="M153.00,191.20A3.35,3.35 0 1 0 153.00,197.80Z" fill="url(#gW)"/>
<circle cx="136.5" cy="193.3" r="3.35" fill="url(#gG)"/>
<circle cx="164.1" cy="175.1" r="2.6" fill="url(#gW)"/>
<circle cx="97.1" cy="208.4" r="3.35" fill="url(#gG)"/>
<path d="M97.70,205.10A3.35,3.35 0 1 0 97.70,211.70Z" fill="url(#gW)"/>
<circle cx="136.5" cy="207.9" r="3.35" fill="url(#gG)"/>
<circle cx="98.3" cy="110.0" r="1.8" fill="url(#gR)"/>
<circle cx="86.4" cy="113.2" r="1.8" fill="url(#gR)"/>
<circle cx="94.6" cy="113.2" r="1.8" fill="url(#gR)"/>
<circle cx="107.2" cy="117.3" r="1.8" fill="url(#gR)"/>
<circle cx="79.2" cy="122.4" r="1.8" fill="url(#gR)"/>
<circle cx="88.2" cy="120.6" r="1.8" fill="url(#gR)"/>
<circle cx="79.2" cy="127.3" r="1.8" fill="url(#gR)"/>
<circle cx="102.6" cy="127.1" r="1.8" fill="url(#gR)"/>
<circle cx="86.6" cy="136.0" r="1.8" fill="url(#gR)"/>
<circle cx="75.6" cy="141.1" r="1.8" fill="url(#gR)"/>
<circle cx="105.4" cy="141.0" r="1.8" fill="url(#gR)"/>
<circle cx="121.1" cy="110.0" r="1.8" fill="url(#gR)"/>
<circle cx="136.3" cy="110.0" r="1.8" fill="url(#gR)"/>
<circle cx="124.6" cy="113.2" r="1.8" fill="url(#gR)"/>
<circle cx="132.6" cy="113.2" r="1.8" fill="url(#gR)"/>
<circle cx="145.3" cy="117.3" r="1.8" fill="url(#gR)"/>
<circle cx="140.0" cy="122.4" r="1.8" fill="url(#gR)"/>
<circle cx="117.3" cy="127.1" r="1.8" fill="url(#gR)"/>
<circle cx="126.1" cy="129.0" r="1.8" fill="url(#gR)"/>
<circle cx="132.3" cy="136.0" r="1.8" fill="url(#gR)"/>
<circle cx="113.5" cy="141.0" r="1.8" fill="url(#gR)"/>
<circle cx="158.8" cy="110.0" r="1.8" fill="url(#gR)"/>
<circle cx="162.8" cy="113.2" r="1.8" fill="url(#gR)"/>
<circle cx="170.7" cy="113.2" r="1.8" fill="url(#gR)"/>
<circle cx="164.2" cy="120.7" r="1.8" fill="url(#gR)"/>
<circle cx="155.3" cy="122.4" r="1.8" fill="url(#gR)"/>
<circle cx="178.2" cy="122.4" r="1.8" fill="url(#gR)"/>
<circle cx="178.2" cy="127.5" r="1.8" fill="url(#gR)"/>
<circle cx="150.2" cy="132.3" r="1.8" fill="url(#gR)"/>
<circle cx="162.5" cy="136.0" r="1.8" fill="url(#gR)"/>
<circle cx="181.9" cy="141.3" r="1.8" fill="url(#gR)"/>
<circle cx="75.6" cy="146.3" r="1.8" fill="url(#gR)"/>
<circle cx="94.6" cy="151.1" r="1.8" fill="url(#gR)"/>
<circle cx="107.2" cy="155.0" r="1.8" fill="url(#gR)"/>
<circle cx="79.1" cy="160.3" r="1.8" fill="url(#gR)"/>
<circle cx="79.1" cy="165.3" r="1.8" fill="url(#gR)"/>
<circle cx="93.2" cy="166.6" r="1.8" fill="url(#gR)"/>
<circle cx="101.9" cy="165.0" r="1.8" fill="url(#gR)"/>
<circle cx="86.6" cy="174.5" r="1.8" fill="url(#gR)"/>
<circle cx="143.5" cy="146.3" r="1.8" fill="url(#gR)"/>
<circle cx="124.7" cy="151.5" r="1.8" fill="url(#gR)"/>
<circle cx="131.0" cy="158.9" r="1.8" fill="url(#gR)"/>
<circle cx="139.6" cy="160.6" r="1.8" fill="url(#gR)"/>
<circle cx="117.3" cy="165.4" r="1.8" fill="url(#gR)"/>
<circle cx="144.9" cy="170.3" r="1.8" fill="url(#gR)"/>
<circle cx="132.3" cy="174.2" r="1.8" fill="url(#gR)"/>
<circle cx="113.5" cy="178.5" r="1.8" fill="url(#gR)"/>
<circle cx="181.9" cy="146.3" r="1.8" fill="url(#gR)"/>
<circle cx="151.9" cy="146.6" r="1.8" fill="url(#gR)"/>
<circle cx="170.7" cy="151.1" r="1.8" fill="url(#gR)"/>
<circle cx="155.8" cy="160.3" r="1.8" fill="url(#gR)"/>
<circle cx="177.8" cy="160.2" r="1.8" fill="url(#gR)"/>
<circle cx="177.8" cy="165.4" r="1.8" fill="url(#gR)"/>
<circle cx="168.9" cy="166.5" r="1.8" fill="url(#gR)"/>
<circle cx="162.5" cy="174.3" r="1.8" fill="url(#gR)"/>
<circle cx="75.8" cy="179.5" r="1.8" fill="url(#gR)"/>
<circle cx="75.8" cy="184.5" r="1.8" fill="url(#gR)"/>
<circle cx="105.6" cy="179.2" r="1.8" fill="url(#gR)"/>
<circle cx="94.8" cy="189.4" r="1.8" fill="url(#gR)"/>
<circle cx="111.5" cy="193.2" r="1.8" fill="url(#gR)"/>
<circle cx="88.2" cy="196.6" r="1.8" fill="url(#gR)"/>
<circle cx="79.1" cy="198.4" r="1.8" fill="url(#gR)"/>
<circle cx="79.1" cy="203.1" r="1.8" fill="url(#gR)"/>
<circle cx="102.2" cy="203.2" r="1.8" fill="url(#gR)"/>
<circle cx="107.0" cy="208.4" r="1.8" fill="url(#gR)"/>
<circle cx="86.4" cy="212.2" r="1.8" fill="url(#gR)"/>
<circle cx="94.8" cy="212.2" r="1.8" fill="url(#gR)"/>
<circle cx="98.3" cy="215.7" r="1.8" fill="url(#gR)"/>
<circle cx="143.5" cy="184.1" r="1.8" fill="url(#gR)"/>
<circle cx="124.4" cy="189.5" r="1.8" fill="url(#gR)"/>
<circle cx="140.1" cy="198.3" r="1.8" fill="url(#gR)"/>
<circle cx="117.1" cy="203.2" r="1.8" fill="url(#gR)"/>
<circle cx="126.3" cy="204.8" r="1.8" fill="url(#gR)"/>
<circle cx="145.3" cy="208.2" r="1.8" fill="url(#gR)"/>
<circle cx="124.5" cy="212.2" r="1.8" fill="url(#gR)"/>
<circle cx="132.8" cy="212.2" r="1.8" fill="url(#gR)"/>
<circle cx="121.0" cy="215.7" r="1.8" fill="url(#gR)"/>
<circle cx="136.5" cy="215.7" r="1.8" fill="url(#gR)"/>
<circle cx="181.2" cy="179.2" r="1.8" fill="url(#gR)"/>
<circle cx="181.2" cy="184.1" r="1.8" fill="url(#gR)"/>
<circle cx="151.6" cy="184.1" r="1.8" fill="url(#gR)"/>
<circle cx="170.7" cy="189.5" r="1.8" fill="url(#gR)"/>
<circle cx="164.4" cy="196.1" r="1.8" fill="url(#gR)"/>
<circle cx="155.1" cy="198.8" r="1.8" fill="url(#gR)"/>
<circle cx="178.1" cy="198.3" r="1.8" fill="url(#gR)"/>
<circle cx="178.1" cy="203.2" r="1.8" fill="url(#gR)"/>
<circle cx="162.5" cy="212.2" r="1.8" fill="url(#gR)"/>
<circle cx="170.7" cy="212.2" r="1.8" fill="url(#gR)"/>
<circle cx="158.9" cy="215.7" r="1.8" fill="url(#gR)"/>
</g>
<g clip-path="url(#ca)">
<line x1="51" y1="39.3" x2="326.5" y2="151.2" stroke="#707070" stroke-width="1.3"/>
<line x1="51" y1="34.2" x2="326.5" y2="147.2" stroke="#e8606a" stroke-width="1.15" stroke-dasharray="3.2,2.5"/>
<line x1="51" y1="30.5" x2="326.5" y2="144.0" stroke="#4a90da" stroke-width="1.15" stroke-dasharray="6.2,2.0,1.2,2.0"/>
</g>
<path d="M110.0,62.2V68.8M108.0,62.2h4M108.0,68.8h4" stroke="#777" stroke-width="1" fill="none"/>
<path d="M137.1,70.5V74.3M135.1,70.5h4M135.1,74.3h4" stroke="#777" stroke-width="1" fill="none"/>
<path d="M156.3,79.6V87.0M154.3,79.6h4M154.3,87.0h4" stroke="#777" stroke-width="1" fill="none"/>
<path d="M182.8,91.8V98.3M180.8,91.8h4M180.8,98.3h4" stroke="#777" stroke-width="1" fill="none"/>
<path d="M204.7,98.8V107.0M202.7,98.8h4M202.7,107.0h4" stroke="#777" stroke-width="1" fill="none"/>
<path d="M227.5,111.3V121.5M225.5,111.3h4M225.5,121.5h4" stroke="#777" stroke-width="1" fill="none"/>
<path d="M234.0,107.6V119.4M232.0,107.6h4M232.0,119.4h4" stroke="#777" stroke-width="1" fill="none"/>
<path d="M251.8,114.4V126.4M249.8,114.4h4M249.8,126.4h4" stroke="#777" stroke-width="1" fill="none"/>
<path d="M272.9,119.7V131.9M270.9,119.7h4M270.9,131.9h4" stroke="#777" stroke-width="1" fill="none"/>
<rect x="90.5" y="42.1" width="3.6" height="3.0" fill="#5b9be0"/>
<rect x="91.6" y="43.1" width="1.4" height="1.0" fill="#a9cdf2"/>
<rect x="101.1" y="51.2" width="3.6" height="3.0" fill="#5b9be0"/>
<rect x="102.2" y="52.2" width="1.4" height="1.0" fill="#a9cdf2"/>
<rect x="116.1" y="57.1" width="3.6" height="3.0" fill="#5b9be0"/>
<rect x="117.2" y="58.1" width="1.4" height="1.0" fill="#a9cdf2"/>
<rect x="135.3" y="65.6" width="3.6" height="3.0" fill="#5b9be0"/>
<rect x="136.4" y="66.6" width="1.4" height="1.0" fill="#a9cdf2"/>
<rect x="162.3" y="75.9" width="3.6" height="3.0" fill="#5b9be0"/>
<rect x="163.4" y="76.9" width="1.4" height="1.0" fill="#a9cdf2"/>
<rect x="203.0" y="91.4" width="3.6" height="3.0" fill="#5b9be0"/>
<rect x="204.1" y="92.4" width="1.4" height="1.0" fill="#a9cdf2"/>
<rect x="90.0" y="48.5" width="3.6" height="3.0" fill="#ec6c75"/>
<rect x="91.1" y="49.5" width="1.4" height="1.0" fill="#f6b0b5"/>
<rect x="101.1" y="54.1" width="3.6" height="3.0" fill="#ec6c75"/>
<rect x="102.2" y="55.1" width="1.4" height="1.0" fill="#f6b0b5"/>
<rect x="116.1" y="60.6" width="3.6" height="3.0" fill="#ec6c75"/>
<rect x="117.2" y="61.6" width="1.4" height="1.0" fill="#f6b0b5"/>
<rect x="135.3" y="68.8" width="3.6" height="3.0" fill="#ec6c75"/>
<rect x="136.4" y="69.8" width="1.4" height="1.0" fill="#f6b0b5"/>
<rect x="162.3" y="79.7" width="3.6" height="3.0" fill="#ec6c75"/>
<rect x="163.4" y="80.7" width="1.4" height="1.0" fill="#f6b0b5"/>
<rect x="203.0" y="95.2" width="3.6" height="3.0" fill="#ec6c75"/>
<rect x="204.1" y="96.2" width="1.4" height="1.0" fill="#f6b0b5"/>
<line x1="50.05" y1="27.75" x2="327.40" y2="27.75" stroke="#4d4d4d" stroke-width="1.35"/>
<line x1="50.05" y1="231.90" x2="327.40" y2="231.90" stroke="#4d4d4d" stroke-width="1.35"/>
<line x1="326.80" y1="27.75" x2="326.80" y2="231.90" stroke="#505050" stroke-width="1.4"/>
<line x1="50.60" y1="27.15" x2="50.60" y2="232.50" stroke="#242424" stroke-width="1.1"/>
<line x1="47.60" y1="231.80" x2="50.6" y2="231.80" stroke="#333" stroke-width="1"/>
<line x1="48.90" y1="216.42" x2="50.6" y2="216.42" stroke="#333" stroke-width="0.7"/>
<line x1="48.90" y1="207.43" x2="50.6" y2="207.43" stroke="#333" stroke-width="0.7"/>
<line x1="48.90" y1="201.05" x2="50.6" y2="201.05" stroke="#333" stroke-width="0.7"/>
<line x1="48.90" y1="196.10" x2="50.6" y2="196.10" stroke="#333" stroke-width="0.7"/>
<line x1="48.90" y1="192.06" x2="50.6" y2="192.06" stroke="#333" stroke-width="0.7"/>
<line x1="48.90" y1="188.64" x2="50.6" y2="188.64" stroke="#333" stroke-width="0.7"/>
<line x1="48.90" y1="185.67" x2="50.6" y2="185.67" stroke="#333" stroke-width="0.7"/>
<line x1="48.90" y1="183.06" x2="50.6" y2="183.06" stroke="#333" stroke-width="0.7"/>
<text x="24.40" y="235.40" font-size="10.5" fill="#111" stroke="#111" stroke-width="0.22">10</text>
<rect x="36.57" y="229.35" width="4.20" height="0.7" fill="#111"/>
<text x="40.56" y="231.60" font-size="7.6" fill="#111" stroke="#111" stroke-width="0.22">8</text>
<line x1="47.60" y1="180.73" x2="50.6" y2="180.73" stroke="#333" stroke-width="1"/>
<line x1="48.90" y1="165.35" x2="50.6" y2="165.35" stroke="#333" stroke-width="0.7"/>
<line x1="48.90" y1="156.36" x2="50.6" y2="156.36" stroke="#333" stroke-width="0.7"/>
<line x1="48.90" y1="149.97" x2="50.6" y2="149.97" stroke="#333" stroke-width="0.7"/>
<line x1="48.90" y1="145.03" x2="50.6" y2="145.03" stroke="#333" stroke-width="0.7"/>
<line x1="48.90" y1="140.98" x2="50.6" y2="140.98" stroke="#333" stroke-width="0.7"/>
<line x1="48.90" y1="137.56" x2="50.6" y2="137.56" stroke="#333" stroke-width="0.7"/>
<line x1="48.90" y1="134.60" x2="50.6" y2="134.60" stroke="#333" stroke-width="0.7"/>
<line x1="48.90" y1="131.99" x2="50.6" y2="131.99" stroke="#333" stroke-width="0.7"/>
<text x="24.40" y="184.33" font-size="10.5" fill="#111" stroke="#111" stroke-width="0.22">10</text>
<rect x="36.57" y="178.28" width="4.20" height="0.7" fill="#111"/>
<text x="40.56" y="180.53" font-size="7.6" fill="#111" stroke="#111" stroke-width="0.22">7</text>
<line x1="47.60" y1="129.65" x2="50.6" y2="129.65" stroke="#333" stroke-width="1"/>
<line x1="48.90" y1="114.27" x2="50.6" y2="114.27" stroke="#333" stroke-width="0.7"/>
<line x1="48.90" y1="105.28" x2="50.6" y2="105.28" stroke="#333" stroke-width="0.7"/>
<line x1="48.90" y1="98.90" x2="50.6" y2="98.90" stroke="#333" stroke-width="0.7"/>
<line x1="48.90" y1="93.95" x2="50.6" y2="93.95" stroke="#333" stroke-width="0.7"/>
<line x1="48.90" y1="89.91" x2="50.6" y2="89.91" stroke="#333" stroke-width="0.7"/>
<line x1="48.90" y1="86.49" x2="50.6" y2="86.49" stroke="#333" stroke-width="0.7"/>
<line x1="48.90" y1="83.52" x2="50.6" y2="83.52" stroke="#333" stroke-width="0.7"/>
<line x1="48.90" y1="80.91" x2="50.6" y2="80.91" stroke="#333" stroke-width="0.7"/>
<text x="24.40" y="133.25" font-size="10.5" fill="#111" stroke="#111" stroke-width="0.22">10</text>
<rect x="36.57" y="127.20" width="4.20" height="0.7" fill="#111"/>
<text x="40.56" y="129.45" font-size="7.6" fill="#111" stroke="#111" stroke-width="0.22">6</text>
<line x1="47.60" y1="78.58" x2="50.6" y2="78.58" stroke="#333" stroke-width="1"/>
<line x1="48.90" y1="63.20" x2="50.6" y2="63.20" stroke="#333" stroke-width="0.7"/>
<line x1="48.90" y1="54.21" x2="50.6" y2="54.21" stroke="#333" stroke-width="0.7"/>
<line x1="48.90" y1="47.82" x2="50.6" y2="47.82" stroke="#333" stroke-width="0.7"/>
<line x1="48.90" y1="42.88" x2="50.6" y2="42.88" stroke="#333" stroke-width="0.7"/>
<line x1="48.90" y1="38.83" x2="50.6" y2="38.83" stroke="#333" stroke-width="0.7"/>
<line x1="48.90" y1="35.41" x2="50.6" y2="35.41" stroke="#333" stroke-width="0.7"/>
<line x1="48.90" y1="32.45" x2="50.6" y2="32.45" stroke="#333" stroke-width="0.7"/>
<line x1="48.90" y1="29.84" x2="50.6" y2="29.84" stroke="#333" stroke-width="0.7"/>
<text x="24.40" y="82.17" font-size="10.5" fill="#111" stroke="#111" stroke-width="0.22">10</text>
<rect x="36.57" y="76.12" width="4.20" height="0.7" fill="#111"/>
<text x="40.56" y="78.38" font-size="7.6" fill="#111" stroke="#111" stroke-width="0.22">5</text>
<line x1="47.60" y1="27.50" x2="50.6" y2="27.50" stroke="#333" stroke-width="1"/>
<text x="24.40" y="31.10" font-size="10.5" fill="#111" stroke="#111" stroke-width="0.22">10</text>
<rect x="36.57" y="25.05" width="4.20" height="0.7" fill="#111"/>
<text x="40.56" y="27.30" font-size="7.6" fill="#111" stroke="#111" stroke-width="0.22">4</text>
<line x1="66.85" y1="231.8" x2="66.85" y2="234.60" stroke="#333" stroke-width="1"/>
<text x="66.85" y="245.00" font-size="10.2" fill="#111" stroke="#111" stroke-width="0.22" text-anchor="middle">0.4</text>
<line x1="99.34" y1="231.8" x2="99.34" y2="234.60" stroke="#333" stroke-width="1"/>
<text x="99.34" y="245.00" font-size="10.2" fill="#111" stroke="#111" stroke-width="0.22" text-anchor="middle">0.6</text>
<line x1="131.84" y1="231.8" x2="131.84" y2="234.60" stroke="#333" stroke-width="1"/>
<text x="131.84" y="245.00" font-size="10.2" fill="#111" stroke="#111" stroke-width="0.22" text-anchor="middle">0.8</text>
<line x1="164.33" y1="231.8" x2="164.33" y2="234.60" stroke="#333" stroke-width="1"/>
<text x="164.33" y="245.00" font-size="10.2" fill="#111" stroke="#111" stroke-width="0.22" text-anchor="middle">1.0</text>
<line x1="196.82" y1="231.8" x2="196.82" y2="234.60" stroke="#333" stroke-width="1"/>
<text x="196.82" y="245.00" font-size="10.2" fill="#111" stroke="#111" stroke-width="0.22" text-anchor="middle">1.2</text>
<line x1="229.32" y1="231.8" x2="229.32" y2="234.60" stroke="#333" stroke-width="1"/>
<text x="229.32" y="245.00" font-size="10.2" fill="#111" stroke="#111" stroke-width="0.22" text-anchor="middle">1.4</text>
<line x1="261.81" y1="231.8" x2="261.81" y2="234.60" stroke="#333" stroke-width="1"/>
<text x="261.81" y="245.00" font-size="10.2" fill="#111" stroke="#111" stroke-width="0.22" text-anchor="middle">1.6</text>
<line x1="294.31" y1="231.8" x2="294.31" y2="234.60" stroke="#333" stroke-width="1"/>
<text x="294.31" y="245.00" font-size="10.2" fill="#111" stroke="#111" stroke-width="0.22" text-anchor="middle">1.8</text>
<line x1="326.80" y1="231.8" x2="326.80" y2="234.60" stroke="#333" stroke-width="1"/>
<text x="326.80" y="245.00" font-size="10.2" fill="#111" stroke="#111" stroke-width="0.22" text-anchor="middle">2.0</text>
<text x="154.03" y="260.20" font-size="11.4" fill="#111" stroke="#111" stroke-width="0.22">1000/T</text>
<text x="194.09" y="260.20" font-size="11.4" fill="#111" stroke="#111" stroke-width="0.22">(K</text>
<rect x="207.10" y="253.20" width="5.30" height="0.8" fill="#111"/>
<text x="213.65" y="255.70" font-size="8.5" fill="#111" stroke="#111" stroke-width="0.22">1</text>
<text x="219.33" y="260.20" font-size="11.4" fill="#111" stroke="#111" stroke-width="0.22">)</text>
<g transform="translate(17.6,161.4) rotate(-90)"><text x="-0.05" y="0.00" font-size="11.4" fill="#111" stroke="#111" stroke-width="0.22" font-style="italic">D</text><text x="11.69" y="0.00" font-size="11.4" fill="#111" stroke="#111" stroke-width="0.22">(cm</text><text x="31.38" y="-4.40" font-size="8.5" fill="#111" stroke="#111" stroke-width="0.22">2</text><text x="40.38" y="0.00" font-size="11.4" fill="#111" stroke="#111" stroke-width="0.22">s</text><rect x="47.60" y="-7.30" width="5.30" height="0.8" fill="#111"/><text x="53.95" y="-4.40" font-size="8.5" fill="#111" stroke="#111" stroke-width="0.22">1</text><text x="59.53" y="0.00" font-size="11.4" fill="#111" stroke="#111" stroke-width="0.22">)</text></g>
<rect x="256" y="32" width="67.5" height="33" rx="1.5" fill="#fff" fill-opacity="0.8" stroke="#d8d8d8" stroke-width="0.8"/>
<line x1="258.2" y1="37.3" x2="274.6" y2="37.3" stroke="#707070" stroke-width="1.3"/>
<line x1="258.2" y1="47.7" x2="274.6" y2="47.7" stroke="#e8606a" stroke-width="1.3" stroke-dasharray="3.4,2.4"/>
<line x1="258.2" y1="58.2" x2="274.6" y2="58.2" stroke="#4a90da" stroke-width="1.3" stroke-dasharray="6.4,1.9,1.2,1.9"/>
<text x="279.60" y="39.90" font-size="7.35" fill="#111" stroke="#111" stroke-width="0.22">AIMD</text>
<text x="279.60" y="50.30" font-size="7.35" fill="#111" stroke="#111" stroke-width="0.22">Our model</text>
<text x="279.60" y="60.80" font-size="7.35" fill="#111" stroke="#111" stroke-width="0.22">w/o-Ir model</text>
<text x="221.8" y="180.8" font-size="9" fill="#767676" stroke="#767676" stroke-width="0.18"><tspan font-style="italic">E</tspan><tspan dy="1.8" font-size="6.5">a</tspan><tspan dy="-1.8"> = 0.258 ± 0.017 eV</tspan></text>
<text x="221.8" y="190.8" font-size="9" fill="#e65a64" stroke="#e65a64" stroke-width="0.18"><tspan font-style="italic">E</tspan><tspan dy="1.8" font-size="6.5">a</tspan><tspan dy="-1.8"> = 0.261 ± 0.006 eV</tspan></text>
<text x="221.8" y="200.8" font-size="9" fill="#4d92dc" stroke="#4d92dc" stroke-width="0.18"><tspan font-style="italic">E</tspan><tspan dy="1.8" font-size="6.5">a</tspan><tspan dy="-1.8"> = 0.263 ± 0.006 eV</tspan></text>
<g clip-path="url(#cb)">
<polyline points="346.02,248.66 348.09,248.44 350.16,248.21 352.22,247.98 354.29,247.73 356.35,247.47 358.42,247.20 360.48,246.92 362.55,246.63 364.62,246.32 366.68,246.01 368.75,245.68 370.81,245.33 372.88,244.97 374.94,244.60 377.01,244.22 379.07,243.82 381.14,243.40 383.21,242.97 385.27,242.53 387.34,242.06 389.40,241.59 391.47,241.09 393.53,240.59 395.60,240.06 397.67,239.52 399.73,238.96 401.80,238.39 403.86,237.80 405.93,237.19 407.99,236.56 410.06,235.92 412.12,235.27 414.19,234.59 416.26,233.90 418.32,233.19 420.39,232.47 422.45,231.73 424.52,230.98 426.58,230.21 428.65,229.42 430.72,228.62 432.78,227.81 434.85,226.98 436.91,226.14 438.98,225.28 441.04,224.41 443.11,223.52 445.17,222.63 447.24,221.72 449.31,220.79 451.37,219.86 453.44,218.91 455.50,217.95 457.57,216.99 459.63,216.01 461.70,215.02 463.77,214.02 465.83,213.01 467.90,211.99 469.96,210.97 472.03,209.93 474.09,208.89 476.16,207.84 478.22,206.78 480.29,205.71 482.36,204.64 484.42,203.56 486.49,202.47 488.55,201.38 490.62,200.28 492.68,199.18 494.75,198.07 496.82,196.96 498.88,195.84 500.95,194.71 503.01,193.59 505.08,192.45 507.14,191.32 509.21,190.18 511.27,189.03 513.34,187.88 515.41,186.73 517.47,185.58 519.54,184.42 521.60,183.26 523.67,182.10 525.73,180.93 527.80,179.76 529.87,178.59 531.93,177.42 534.00,176.24 536.06,175.07 538.13,173.89 540.19,172.71 542.26,171.52 544.32,170.34 546.39,169.15 548.46,167.97 550.52,166.78 552.59,165.59 554.65,164.40 556.72,163.20 558.78,162.01 560.85,160.82 562.92,159.62 564.98,158.42 567.05,157.22 569.11,156.03 571.18,154.83 573.24,153.63 575.31,152.43 577.37,151.22 579.44,150.02 581.51,148.82 583.57,147.61 585.64,146.41 587.70,145.21 589.77,144.00 591.83,142.79 593.90,141.59 595.97,140.38 598.03,139.17 600.10,137.97 602.16,136.76 604.23,135.55 606.29,134.34 608.36,133.13 610.42,131.92 612.49,130.71 614.56,129.51 616.62,128.30 618.69,127.08 620.75,125.87 622.82,124.66 624.88,123.45 626.95,122.24 629.02,121.03 631.08,119.82 633.15,118.61 635.21,117.40 637.28,116.18 639.34,114.97 641.41,113.76 643.47,112.55 645.54,111.33 647.61,110.12 649.67,108.91 651.74,107.70 653.80,106.48 655.87,105.27 657.93,104.06 660.00,102.85 662.07,101.63 664.13,100.42 666.20,99.21 668.26,97.99 670.33,96.78 672.39,95.56 674.46,94.35 676.52,93.14" fill="none" stroke="#ee7f35" stroke-width="1.5"/>
<polyline points="346.02,241.10 348.09,240.79 350.16,240.47 352.22,240.13 354.29,239.78 356.35,239.42 358.42,239.04 360.48,238.65 362.55,238.24 364.62,237.82 366.68,237.39 368.75,236.93 370.81,236.47 372.88,235.98 374.94,235.48 377.01,234.97 379.07,234.44 381.14,233.89 383.21,233.32 385.27,232.74 387.34,232.15 389.40,231.53 391.47,230.90 393.53,230.25 395.60,229.59 397.67,228.91 399.73,228.21 401.80,227.50 403.86,226.77 405.93,226.02 407.99,225.26 410.06,224.49 412.12,223.70 414.19,222.89 416.26,222.07 418.32,221.23 420.39,220.38 422.45,219.52 424.52,218.64 426.58,217.75 428.65,216.85 430.72,215.94 432.78,215.01 434.85,214.07 436.91,213.12 438.98,212.16 441.04,211.19 443.11,210.20 445.17,209.21 447.24,208.21 449.31,207.19 451.37,206.17 453.44,205.14 455.50,204.10 457.57,203.06 459.63,202.00 461.70,200.94 463.77,199.87 465.83,198.80 467.90,197.72 469.96,196.63 472.03,195.53 474.09,194.43 476.16,193.33 478.22,192.21 480.29,191.10 482.36,189.98 484.42,188.85 486.49,187.72 488.55,186.59 490.62,185.45 492.68,184.31 494.75,183.16 496.82,182.01 498.88,180.86 500.95,179.70 503.01,178.54 505.08,177.38 507.14,176.22 509.21,175.05 511.27,173.88 513.34,172.71 515.41,171.54 517.47,170.36 519.54,169.18 521.60,168.00 523.67,166.82 525.73,165.64 527.80,164.45 529.87,163.27 531.93,162.08 534.00,160.89 536.06,159.70 538.13,158.51 540.19,157.31 542.26,156.12 544.32,154.92 546.39,153.73 548.46,152.53 550.52,151.33 552.59,150.13 554.65,148.93 556.72,147.73 558.78,146.53 560.85,145.33 562.92,144.13 564.98,142.92 567.05,141.72 569.11,140.52 571.18,139.31 573.24,138.11 575.31,136.90 577.37,135.69 579.44,134.49 581.51,133.28 583.57,132.07 585.64,130.86 587.70,129.66 589.77,128.45 591.83,127.24 593.90,126.03 595.97,124.82 598.03,123.61 600.10,122.40 602.16,121.19 604.23,119.98 606.29,118.77 608.36,117.56 610.42,116.34 612.49,115.13 614.56,113.92 616.62,112.71 618.69,111.50 620.75,110.29 622.82,109.07 624.88,107.86 626.95,106.65 629.02,105.44 631.08,104.22 633.15,103.01 635.21,101.80 637.28,100.59 639.34,99.37 641.41,98.16 643.47,96.95 645.54,95.73 647.61,94.52 649.67,93.31 651.74,92.09 653.80,90.88 655.87,89.67 657.93,88.45 660.00,87.24 662.07,86.03 664.13,84.81 666.20,83.60 668.26,82.39 670.33,81.17 672.39,79.96 674.46,78.74 676.52,77.53" fill="none" stroke="#e8609f" stroke-width="1.5"/>
<polyline points="346.02,236.92 348.09,236.51 350.16,236.10 352.22,235.66 354.29,235.22 356.35,234.75 358.42,234.27 360.48,233.78 362.55,233.27 364.62,232.74 366.68,232.19 368.75,231.63 370.81,231.06 372.88,230.46 374.94,229.85 377.01,229.23 379.07,228.58 381.14,227.92 383.21,227.25 385.27,226.56 387.34,225.85 389.40,225.12 391.47,224.38 393.53,223.63 395.60,222.85 397.67,222.07 399.73,221.26 401.80,220.45 403.86,219.62 405.93,218.77 407.99,217.91 410.06,217.04 412.12,216.15 414.19,215.25 416.26,214.34 418.32,213.42 420.39,212.48 422.45,211.53 424.52,210.57 426.58,209.60 428.65,208.62 430.72,207.63 432.78,206.63 434.85,205.62 436.91,204.60 438.98,203.58 441.04,202.54 443.11,201.50 445.17,200.44 447.24,199.38 449.31,198.32 451.37,197.24 453.44,196.16 455.50,195.07 457.57,193.98 459.63,192.88 461.70,191.78 463.77,190.67 465.83,189.55 467.90,188.43 469.96,187.31 472.03,186.18 474.09,185.05 476.16,183.91 478.22,182.77 480.29,181.62 482.36,180.47 484.42,179.32 486.49,178.17 488.55,177.01 490.62,175.85 492.68,174.69 494.75,173.52 496.82,172.35 498.88,171.18 500.95,170.01 503.01,168.83 505.08,167.65 507.14,166.48 509.21,165.29 511.27,164.11 513.34,162.93 515.41,161.74 517.47,160.55 519.54,159.36 521.60,158.17 523.67,156.98 525.73,155.79 527.80,154.60 529.87,153.40 531.93,152.20 534.00,151.01 536.06,149.81 538.13,148.61 540.19,147.41 542.26,146.21 544.32,145.01 546.39,143.81 548.46,142.61 550.52,141.40 552.59,140.20 554.65,138.99 556.72,137.79 558.78,136.58 560.85,135.38 562.92,134.17 564.98,132.97 567.05,131.76 569.11,130.55 571.18,129.34 573.24,128.13 575.31,126.93 577.37,125.72 579.44,124.51 581.51,123.30 583.57,122.09 585.64,120.88 587.70,119.67 589.77,118.46 591.83,117.25 593.90,116.04 595.97,114.82 598.03,113.61 600.10,112.40 602.16,111.19 604.23,109.98 606.29,108.77 608.36,107.55 610.42,106.34 612.49,105.13 614.56,103.92 616.62,102.71 618.69,101.49 620.75,100.28 622.82,99.07 624.88,97.85 626.95,96.64 629.02,95.43 631.08,94.21 633.15,93.00 635.21,91.79 637.28,90.57 639.34,89.36 641.41,88.15 643.47,86.93 645.54,85.72 647.61,84.51 649.67,83.29 651.74,82.08 653.80,80.87 655.87,79.65 657.93,78.44 660.00,77.22 662.07,76.01 664.13,74.80 666.20,73.58 668.26,72.37 670.33,71.15 672.39,69.94 674.46,68.73 676.52,67.51" fill="none" stroke="#7dbe7a" stroke-width="1.5"/>
<polyline points="346.02,230.27 348.09,229.84 350.16,229.39 352.22,228.93 354.29,228.45 356.35,227.95 358.42,227.44 360.48,226.92 362.55,226.38 364.62,225.82 366.68,225.24 368.75,224.65 370.81,224.04 372.88,223.41 374.94,222.77 377.01,222.11 379.07,221.44 381.14,220.75 383.21,220.04 385.27,219.32 387.34,218.58 389.40,217.82 391.47,217.05 393.53,216.27 395.60,215.46 397.67,214.65 399.73,213.82 401.80,212.97 403.86,212.11 405.93,211.24 407.99,210.36 410.06,209.46 412.12,208.55 414.19,207.62 416.26,206.69 418.32,205.74 420.39,204.78 422.45,203.82 424.52,202.84 426.58,201.85 428.65,200.85 430.72,199.84 432.78,198.82 434.85,197.79 436.91,196.76 438.98,195.71 441.04,194.66 443.11,193.60 445.17,192.54 447.24,191.46 449.31,190.38 451.37,189.30 453.44,188.20 455.50,187.10 457.57,186.00 459.63,184.89 461.70,183.78 463.77,182.66 465.83,181.53 467.90,180.40 469.96,179.27 472.03,178.13 474.09,176.99 476.16,175.85 478.22,174.70 480.29,173.55 482.36,172.39 484.42,171.24 486.49,170.08 488.55,168.91 490.62,167.75 492.68,166.58 494.75,165.41 496.82,164.23 498.88,163.06 500.95,161.88 503.01,160.70 505.08,159.52 507.14,158.34 509.21,157.15 511.27,155.97 513.34,154.78 515.41,153.59 517.47,152.40 519.54,151.21 521.60,150.02 523.67,148.82 525.73,147.63 527.80,146.43 529.87,145.24 531.93,144.04 534.00,142.84 536.06,141.64 538.13,140.44 540.19,139.24 542.26,138.04 544.32,136.83 546.39,135.63 548.46,134.43 550.52,133.22 552.59,132.02 554.65,130.81 556.72,129.61 558.78,128.40 560.85,127.19 562.92,125.99 564.98,124.78 567.05,123.57 569.11,122.36 571.18,121.16 573.24,119.95 575.31,118.74 577.37,117.53 579.44,116.32 581.51,115.11 583.57,113.90 585.64,112.69 587.70,111.48 589.77,110.27 591.83,109.05 593.90,107.84 595.97,106.63 598.03,105.42 600.10,104.21 602.16,103.00 604.23,101.78 606.29,100.57 608.36,99.36 610.42,98.15 612.49,96.93 614.56,95.72 616.62,94.51 618.69,93.30 620.75,92.08 622.82,90.87 624.88,89.66 626.95,88.44 629.02,87.23 631.08,86.02 633.15,84.80 635.21,83.59 637.28,82.38 639.34,81.16 641.41,79.95 643.47,78.74 645.54,77.52 647.61,76.31 649.67,75.10 651.74,73.88 653.80,72.67 655.87,71.45 657.93,70.24 660.00,69.03 662.07,67.81 664.13,66.60 666.20,65.38 668.26,64.17 670.33,62.96 672.39,61.74 674.46,60.53 676.52,59.31" fill="none" stroke="#fdc890" stroke-width="1.5"/>
<polyline points="346.02,224.43 348.09,223.95 350.16,223.45 352.22,222.94 354.29,222.41 356.35,221.87 358.42,221.31 360.48,220.73 362.55,220.14 364.62,219.53 366.68,218.90 368.75,218.26 370.81,217.60 372.88,216.92 374.94,216.23 377.01,215.52 379.07,214.79 381.14,214.05 383.21,213.30 385.27,212.52 387.34,211.74 389.40,210.93 391.47,210.12 393.53,209.28 395.60,208.44 397.67,207.58 399.73,206.70 401.80,205.82 403.86,204.92 405.93,204.01 407.99,203.08 410.06,202.15 412.12,201.20 414.19,200.24 416.26,199.27 418.32,198.29 420.39,197.30 422.45,196.30 424.52,195.29 426.58,194.27 428.65,193.24 430.72,192.20 432.78,191.16 434.85,190.11 436.91,189.05 438.98,187.98 441.04,186.91 443.11,185.83 445.17,184.74 447.24,183.65 449.31,182.55 451.37,181.44 453.44,180.33 455.50,179.22 457.57,178.10 459.63,176.97 461.70,175.84 463.77,174.71 465.83,173.57 467.90,172.43 469.96,171.29 472.03,170.14 474.09,168.99 476.16,167.83 478.22,166.67 480.29,165.51 482.36,164.35 484.42,163.18 486.49,162.01 488.55,160.84 490.62,159.67 492.68,158.49 494.75,157.32 496.82,156.14 498.88,154.96 500.95,153.77 503.01,152.59 505.08,151.40 507.14,150.21 509.21,149.03 511.27,147.84 513.34,146.64 515.41,145.45 517.47,144.26 519.54,143.06 521.60,141.87 523.67,140.67 525.73,139.47 527.80,138.27 529.87,137.07 531.93,135.87 534.00,134.67 536.06,133.47 538.13,132.27 540.19,131.06 542.26,129.86 544.32,128.66 546.39,127.45 548.46,126.25 550.52,125.04 552.59,123.83 554.65,122.63 556.72,121.42 558.78,120.21 560.85,119.00 562.92,117.80 564.98,116.59 567.05,115.38 569.11,114.17 571.18,112.96 573.24,111.75 575.31,110.54 577.37,109.33 579.44,108.12 581.51,106.91 583.57,105.70 585.64,104.49 587.70,103.27 589.77,102.06 591.83,100.85 593.90,99.64 595.97,98.43 598.03,97.22 600.10,96.00 602.16,94.79 604.23,93.58 606.29,92.37 608.36,91.15 610.42,89.94 612.49,88.73 614.56,87.52 616.62,86.30 618.69,85.09 620.75,83.88 622.82,82.66 624.88,81.45 626.95,80.24 629.02,79.02 631.08,77.81 633.15,76.60 635.21,75.38 637.28,74.17 639.34,72.95 641.41,71.74 643.47,70.53 645.54,69.31 647.61,68.10 649.67,66.89 651.74,65.67 653.80,64.46 655.87,63.24 657.93,62.03 660.00,60.82 662.07,59.60 664.13,58.39 666.20,57.17 668.26,55.96 670.33,54.74 672.39,53.53 674.46,52.32 676.52,51.10" fill="none" stroke="#a8caef" stroke-width="1.5"/>
<polyline points="346.02,220.36 348.09,219.84 350.16,219.31 352.22,218.76 354.29,218.19 356.35,217.60 358.42,217.00 360.48,216.38 362.55,215.75 364.62,215.10 366.68,214.43 368.75,213.74 370.81,213.04 372.88,212.32 374.94,211.59 377.01,210.84 379.07,210.08 381.14,209.30 383.21,208.50 385.27,207.69 387.34,206.87 389.40,206.03 391.47,205.18 393.53,204.31 395.60,203.43 397.67,202.54 399.73,201.63 401.80,200.71 403.86,199.78 405.93,198.84 407.99,197.89 410.06,196.92 412.12,195.95 414.19,194.96 416.26,193.97 418.32,192.96 420.39,191.95 422.45,190.92 424.52,189.89 426.58,188.85 428.65,187.80 430.72,186.75 432.78,185.68 434.85,184.61 436.91,183.54 438.98,182.45 441.04,181.36 443.11,180.27 445.17,179.16 447.24,178.06 449.31,176.94 451.37,175.83 453.44,174.70 455.50,173.58 457.57,172.45 459.63,171.31 461.70,170.17 463.77,169.03 465.83,167.88 467.90,166.73 469.96,165.58 472.03,164.42 474.09,163.26 476.16,162.10 478.22,160.94 480.29,159.77 482.36,158.60 484.42,157.43 486.49,156.25 488.55,155.08 490.62,153.90 492.68,152.72 494.75,151.53 496.82,150.35 498.88,149.17 500.95,147.98 503.01,146.79 505.08,145.60 507.14,144.41 509.21,143.22 511.27,142.02 513.34,140.83 515.41,139.63 517.47,138.44 519.54,137.24 521.60,136.04 523.67,134.84 525.73,133.64 527.80,132.44 529.87,131.24 531.93,130.04 534.00,128.84 536.06,127.63 538.13,126.43 540.19,125.22 542.26,124.02 544.32,122.81 546.39,121.61 548.46,120.40 550.52,119.19 552.59,117.99 554.65,116.78 556.72,115.57 558.78,114.36 560.85,113.15 562.92,111.94 564.98,110.73 567.05,109.53 569.11,108.32 571.18,107.11 573.24,105.89 575.31,104.68 577.37,103.47 579.44,102.26 581.51,101.05 583.57,99.84 585.64,98.63 587.70,97.42 589.77,96.20 591.83,94.99 593.90,93.78 595.97,92.57 598.03,91.36 600.10,90.14 602.16,88.93 604.23,87.72 606.29,86.51 608.36,85.29 610.42,84.08 612.49,82.87 614.56,81.65 616.62,80.44 618.69,79.23 620.75,78.01 622.82,76.80 624.88,75.59 626.95,74.37 629.02,73.16 631.08,71.95 633.15,70.73 635.21,69.52 637.28,68.30 639.34,67.09 641.41,65.88 643.47,64.66 645.54,63.45 647.61,62.23 649.67,61.02 651.74,59.81 653.80,58.59 655.87,57.38 657.93,56.16 660.00,54.95 662.07,53.74 664.13,52.52 666.20,51.31 668.26,50.09 670.33,48.88 672.39,47.67 674.46,46.45 676.52,45.24" fill="none" stroke="#6b3a8b" stroke-width="1.6"/>
<line x1="344.04" y1="288.65" x2="676.52" y2="93.15" stroke="#3c3c3c" stroke-width="0.65" stroke-dasharray="2,1.3"/>
<line x1="344.04" y1="273.04" x2="676.52" y2="77.54" stroke="#3c3c3c" stroke-width="0.65" stroke-dasharray="2,1.3"/>
<line x1="344.04" y1="263.02" x2="676.52" y2="67.52" stroke="#3c3c3c" stroke-width="0.65" stroke-dasharray="2,1.3"/>
<line x1="344.04" y1="254.82" x2="676.52" y2="59.32" stroke="#3c3c3c" stroke-width="0.65" stroke-dasharray="2,1.3"/>
<line x1="344.04" y1="246.60" x2="676.52" y2="51.11" stroke="#3c3c3c" stroke-width="0.65" stroke-dasharray="2,1.3"/>
<line x1="344.04" y1="240.74" x2="676.52" y2="45.24" stroke="#3c3c3c" stroke-width="0.65" stroke-dasharray="2,1.3"/>
</g>
<line x1="388.95" y1="28.10" x2="677.12" y2="28.10" stroke="#4d4d4d" stroke-width="1.35"/>
<line x1="388.95" y1="232.60" x2="677.12" y2="232.60" stroke="#4d4d4d" stroke-width="1.35"/>
<line x1="676.52" y1="28.10" x2="676.52" y2="232.60" stroke="#505050" stroke-width="1.4"/>
<line x1="389.50" y1="27.50" x2="389.50" y2="233.20" stroke="#242424" stroke-width="1.1"/>
<line x1="386.50" y1="232.50" x2="389.5" y2="232.50" stroke="#333" stroke-width="1"/>
<text x="367.30" y="236.00" font-size="10.5" fill="#111" stroke="#111" stroke-width="0.22">10</text>
<text x="379.16" y="232.20" font-size="7.6" fill="#111" stroke="#111" stroke-width="0.22">0</text>
<line x1="386.50" y1="181.38" x2="389.5" y2="181.38" stroke="#333" stroke-width="1"/>
<text x="367.30" y="184.88" font-size="10.5" fill="#111" stroke="#111" stroke-width="0.22">10</text>
<text x="379.16" y="181.07" font-size="7.6" fill="#111" stroke="#111" stroke-width="0.22">1</text>
<line x1="386.50" y1="130.25" x2="389.5" y2="130.25" stroke="#333" stroke-width="1"/>
<text x="367.30" y="133.75" font-size="10.5" fill="#111" stroke="#111" stroke-width="0.22">10</text>
<text x="379.16" y="129.95" font-size="7.6" fill="#111" stroke="#111" stroke-width="0.22">2</text>
<line x1="386.50" y1="79.12" x2="389.5" y2="79.12" stroke="#333" stroke-width="1"/>
<text x="367.30" y="82.62" font-size="10.5" fill="#111" stroke="#111" stroke-width="0.22">10</text>
<text x="379.16" y="78.83" font-size="7.6" fill="#111" stroke="#111" stroke-width="0.22">3</text>
<line x1="386.50" y1="28.00" x2="389.5" y2="28.00" stroke="#333" stroke-width="1"/>
<text x="367.30" y="31.50" font-size="10.5" fill="#111" stroke="#111" stroke-width="0.22">10</text>
<text x="379.16" y="27.70" font-size="7.6" fill="#111" stroke="#111" stroke-width="0.22">4</text>
<line x1="389.50" y1="232.5" x2="389.50" y2="235.30" stroke="#333" stroke-width="1"/>
<text x="380.90" y="245.50" font-size="10.5" fill="#111" stroke="#111" stroke-width="0.22">10</text>
<text x="392.76" y="241.70" font-size="7.6" fill="#111" stroke="#111" stroke-width="0.22">0</text>
<line x1="476.45" y1="232.5" x2="476.45" y2="235.30" stroke="#333" stroke-width="1"/>
<text x="467.85" y="245.50" font-size="10.5" fill="#111" stroke="#111" stroke-width="0.22">10</text>
<text x="479.71" y="241.70" font-size="7.6" fill="#111" stroke="#111" stroke-width="0.22">1</text>
<line x1="563.40" y1="232.5" x2="563.40" y2="235.30" stroke="#333" stroke-width="1"/>
<text x="554.80" y="245.50" font-size="10.5" fill="#111" stroke="#111" stroke-width="0.22">10</text>
<text x="566.66" y="241.70" font-size="7.6" fill="#111" stroke="#111" stroke-width="0.22">2</text>
<line x1="650.35" y1="232.5" x2="650.35" y2="235.30" stroke="#333" stroke-width="1"/>
<text x="641.75" y="245.50" font-size="10.5" fill="#111" stroke="#111" stroke-width="0.22">10</text>
<text x="653.61" y="241.70" font-size="7.6" fill="#111" stroke="#111" stroke-width="0.22">3</text>
<text x="517.85" y="260.20" font-size="12.2" fill="#111" stroke="#111" stroke-width="0.22" font-style="italic">τ</text>
<text x="527.54" y="260.20" font-size="12.2" fill="#111" stroke="#111" stroke-width="0.22">(ps)</text>
<g transform="translate(361.0,156.0) rotate(-90)"><text x="-0.60" y="0.00" font-size="12.2" fill="#111" stroke="#111" stroke-width="0.22">MSD</text><text x="29.04" y="0.00" font-size="12.2" fill="#111" stroke="#111" stroke-width="0.22">(Å</text><text x="42.38" y="-4.60" font-size="8.5" fill="#111" stroke="#111" stroke-width="0.22">2</text><text x="47.53" y="0.00" font-size="12.2" fill="#111" stroke="#111" stroke-width="0.22">)</text></g>
<rect x="392.8" y="31.2" width="50.7" height="65" rx="1.5" fill="#fff" fill-opacity="0.8" stroke="#d8d8d8" stroke-width="0.8"/>
<line x1="395.5" y1="37.20" x2="411.9" y2="37.20" stroke="#ee7f35" stroke-width="1.5"/>
<text x="417.30" y="39.95" font-size="7.5" fill="#111" stroke="#111" stroke-width="0.22">800 K</text>
<line x1="395.5" y1="47.82" x2="411.9" y2="47.82" stroke="#e8609f" stroke-width="1.5"/>
<text x="417.30" y="50.57" font-size="7.5" fill="#111" stroke="#111" stroke-width="0.22">1000 K</text>
<line x1="395.5" y1="58.44" x2="411.9" y2="58.44" stroke="#7dbe7a" stroke-width="1.5"/>
<text x="417.30" y="61.19" font-size="7.5" fill="#111" stroke="#111" stroke-width="0.22">1200 K</text>
<line x1="395.5" y1="69.06" x2="411.9" y2="69.06" stroke="#fdc890" stroke-width="1.5"/>
<text x="417.30" y="71.81" font-size="7.5" fill="#111" stroke="#111" stroke-width="0.22">1400 K</text>
<line x1="395.5" y1="79.68" x2="411.9" y2="79.68" stroke="#a8caef" stroke-width="1.5"/>
<text x="417.30" y="82.43" font-size="7.5" fill="#111" stroke="#111" stroke-width="0.22">1600 K</text>
<line x1="395.5" y1="90.30" x2="411.9" y2="90.30" stroke="#6b3a8b" stroke-width="1.6"/>
<text x="417.30" y="93.05" font-size="7.5" fill="#111" stroke="#111" stroke-width="0.22">1800 K</text>
</svg>
</body></html>
